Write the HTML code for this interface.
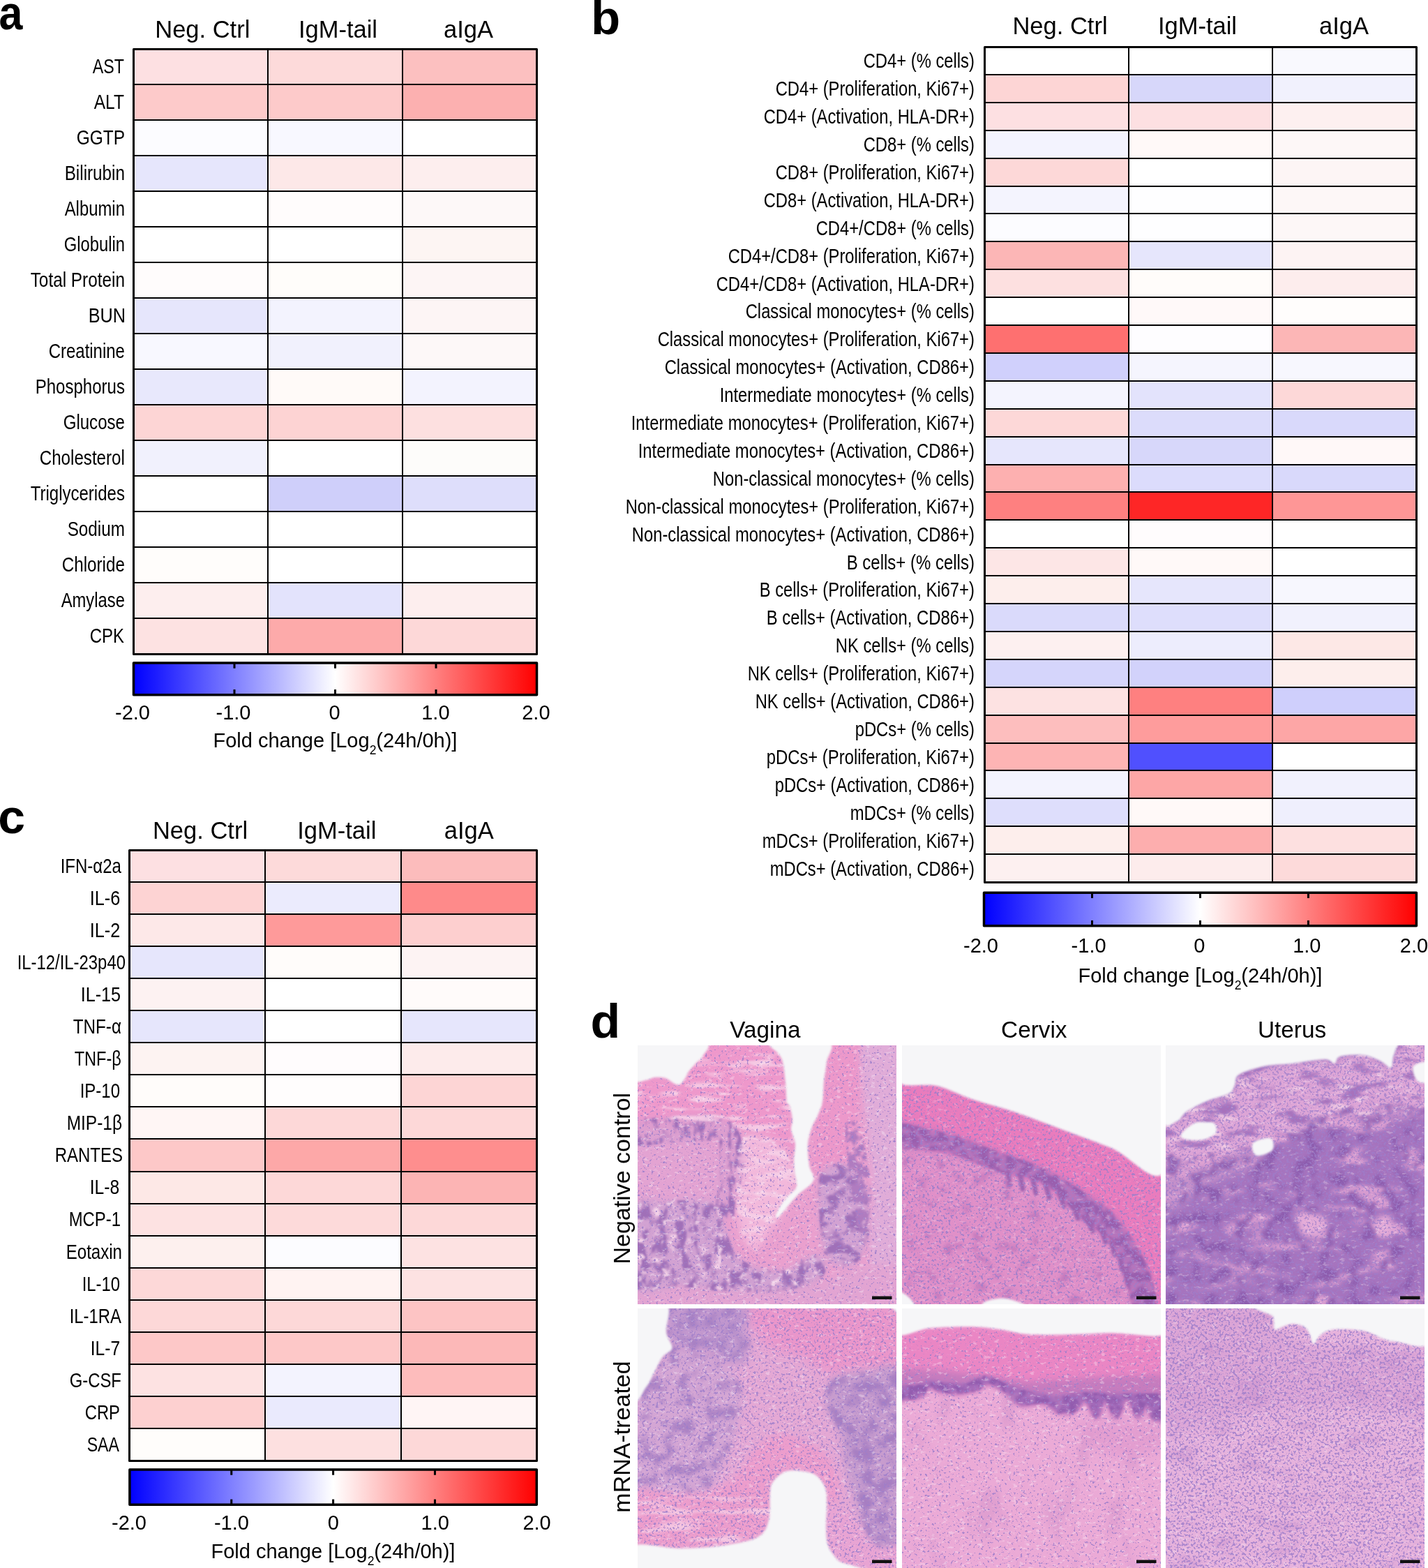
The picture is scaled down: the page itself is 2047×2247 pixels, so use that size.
<!DOCTYPE html>
<html><head><meta charset="utf-8"><title>Figure</title>
<style>html,body{margin:0;padding:0;background:#fff;} svg{display:block;}</style></head>
<body>
<svg width="2047" height="2247" viewBox="0 0 2047 2247" font-family='"Liberation Sans", Arial, sans-serif' fill="#000">
<defs><linearGradient id="cb" x1="0" x2="1" y1="0" y2="0"><stop offset="0" stop-color="#0000FF"/><stop offset="0.5" stop-color="#FFFFFF"/><stop offset="1" stop-color="#FF0000"/></linearGradient><filter id="bl0_6" x="-30%" y="-30%" width="160%" height="160%"><feGaussianBlur stdDeviation="0.6"/></filter><filter id="bl1" x="-30%" y="-30%" width="160%" height="160%"><feGaussianBlur stdDeviation="1"/></filter><filter id="bl1_2" x="-30%" y="-30%" width="160%" height="160%"><feGaussianBlur stdDeviation="1.2"/></filter><filter id="bl1_5" x="-30%" y="-30%" width="160%" height="160%"><feGaussianBlur stdDeviation="1.5"/></filter><filter id="bl2" x="-30%" y="-30%" width="160%" height="160%"><feGaussianBlur stdDeviation="2"/></filter><filter id="bl2_5" x="-30%" y="-30%" width="160%" height="160%"><feGaussianBlur stdDeviation="2.5"/></filter><filter id="bl3" x="-30%" y="-30%" width="160%" height="160%"><feGaussianBlur stdDeviation="3"/></filter><filter id="bl3_5" x="-30%" y="-30%" width="160%" height="160%"><feGaussianBlur stdDeviation="3.5"/></filter><filter id="bl4" x="-30%" y="-30%" width="160%" height="160%"><feGaussianBlur stdDeviation="4"/></filter><filter id="bl5" x="-30%" y="-30%" width="160%" height="160%"><feGaussianBlur stdDeviation="5"/></filter><filter id="bl6" x="-30%" y="-30%" width="160%" height="160%"><feGaussianBlur stdDeviation="6"/></filter><filter id="bl7" x="-30%" y="-30%" width="160%" height="160%"><feGaussianBlur stdDeviation="7"/></filter><filter id="bl8" x="-30%" y="-30%" width="160%" height="160%"><feGaussianBlur stdDeviation="8"/></filter><filter id="bl9" x="-30%" y="-30%" width="160%" height="160%"><feGaussianBlur stdDeviation="9"/></filter><filter id="bl10" x="-30%" y="-30%" width="160%" height="160%"><feGaussianBlur stdDeviation="10"/></filter><filter id="bl12" x="-30%" y="-30%" width="160%" height="160%"><feGaussianBlur stdDeviation="12"/></filter><filter id="tex_lo" x="0" y="0" width="100%" height="100%"><feTurbulence type="fractalNoise" baseFrequency="0.3" numOctaves="2" seed="7" result="n"/><feColorMatrix in="n" type="matrix" values="0 0 0 0 0.34  0 0 0 0 0.21  0 0 0 0 0.6  14 0 0 0 -9.4"/></filter><filter id="tex_md" x="0" y="0" width="100%" height="100%"><feTurbulence type="fractalNoise" baseFrequency="0.3" numOctaves="2" seed="7" result="n"/><feColorMatrix in="n" type="matrix" values="0 0 0 0 0.34  0 0 0 0 0.21  0 0 0 0 0.6  14 0 0 0 -8.9"/></filter><filter id="tex_hi" x="0" y="0" width="100%" height="100%"><feTurbulence type="fractalNoise" baseFrequency="0.3" numOctaves="2" seed="7" result="n"/><feColorMatrix in="n" type="matrix" values="0 0 0 0 0.34  0 0 0 0 0.21  0 0 0 0 0.6  14 0 0 0 -8.2"/></filter><filter id="tex_vh" x="0" y="0" width="100%" height="100%"><feTurbulence type="fractalNoise" baseFrequency="0.3" numOctaves="2" seed="7" result="n"/><feColorMatrix in="n" type="matrix" values="0 0 0 0 0.34  0 0 0 0 0.21  0 0 0 0 0.6  14 0 0 0 -7.6"/></filter><filter id="tex2" x="0" y="0" width="100%" height="100%"><feTurbulence type="fractalNoise" baseFrequency="0.12 0.22" numOctaves="3" seed="11" result="n"/><feColorMatrix in="n" type="matrix" values="0 0 0 0 1  0 0 0 0 0.96  0 0 0 0 1  0 9 0 0 -5.6"/></filter><clipPath id="clip00"><rect x="0" y="0" width="371" height="371"/></clipPath><filter id="blot0" x="-5%" y="-5%" width="110%" height="110%"><feTurbulence type="fractalNoise" baseFrequency="0.07 0.04" numOctaves="3" seed="5" result="n"/><feColorMatrix in="n" type="matrix" values="0 0 0 0 0  0 0 0 0 0  0 0 0 0 0  6 0 0 0 -2.8" result="m"/><feComposite in="SourceGraphic" in2="m" operator="in" result="c"/><feGaussianBlur in="c" stdDeviation="1.2"/></filter><filter id="blot1" x="-5%" y="-5%" width="110%" height="110%"><feTurbulence type="fractalNoise" baseFrequency="0.04 0.07" numOctaves="3" seed="9" result="n"/><feColorMatrix in="n" type="matrix" values="0 0 0 0 0  0 0 0 0 0  0 0 0 0 0  6 0 0 0 -2.9" result="m"/><feComposite in="SourceGraphic" in2="m" operator="in" result="c"/><feGaussianBlur in="c" stdDeviation="1.2"/></filter><filter id="blot2" x="-5%" y="-5%" width="110%" height="110%"><feTurbulence type="fractalNoise" baseFrequency="0.1 0.045" numOctaves="3" seed="13" result="n"/><feColorMatrix in="n" type="matrix" values="0 0 0 0 0  0 0 0 0 0  0 0 0 0 0  6 0 0 0 -3.0" result="m"/><feComposite in="SourceGraphic" in2="m" operator="in" result="c"/><feGaussianBlur in="c" stdDeviation="1.2"/></filter><filter id="blot3" x="-5%" y="-5%" width="110%" height="110%"><feTurbulence type="fractalNoise" baseFrequency="0.08" numOctaves="3" seed="19" result="n"/><feColorMatrix in="n" type="matrix" values="0 0 0 0 0  0 0 0 0 0  0 0 0 0 0  6 0 0 0 -2.2" result="m"/><feComposite in="SourceGraphic" in2="m" operator="in" result="c"/><feGaussianBlur in="c" stdDeviation="1.2"/></filter><filter id="blot4" x="-5%" y="-5%" width="110%" height="110%"><feTurbulence type="fractalNoise" baseFrequency="0.015 0.09" numOctaves="3" seed="23" result="n"/><feColorMatrix in="n" type="matrix" values="0 0 0 0 0  0 0 0 0 0  0 0 0 0 0  6 0 0 0 -3.2" result="m"/><feComposite in="SourceGraphic" in2="m" operator="in" result="c"/><feGaussianBlur in="c" stdDeviation="1.0"/></filter><filter id="blot5" x="-5%" y="-5%" width="110%" height="110%"><feTurbulence type="fractalNoise" baseFrequency="0.03 0.1" numOctaves="3" seed="29" result="n"/><feColorMatrix in="n" type="matrix" values="0 0 0 0 0  0 0 0 0 0  0 0 0 0 0  6 0 0 0 -3.0" result="m"/><feComposite in="SourceGraphic" in2="m" operator="in" result="c"/><feGaussianBlur in="c" stdDeviation="1.0"/></filter><filter id="blot6" x="-5%" y="-5%" width="110%" height="110%"><feTurbulence type="fractalNoise" baseFrequency="0.09" numOctaves="3" seed="61" result="n"/><feColorMatrix in="n" type="matrix" values="0 0 0 0 0  0 0 0 0 0  0 0 0 0 0  7 0 0 0 -4.2" result="m"/><feComposite in="SourceGraphic" in2="m" operator="in" result="c"/><feGaussianBlur in="c" stdDeviation="1.0"/></filter><clipPath id="clip01"><rect x="0" y="0" width="371" height="371"/></clipPath><filter id="blot7" x="-5%" y="-5%" width="110%" height="110%"><feTurbulence type="fractalNoise" baseFrequency="0.08" numOctaves="3" seed="31" result="n"/><feColorMatrix in="n" type="matrix" values="0 0 0 0 0  0 0 0 0 0  0 0 0 0 0  6 0 0 0 -2.4" result="m"/><feComposite in="SourceGraphic" in2="m" operator="in" result="c"/><feGaussianBlur in="c" stdDeviation="1.5"/></filter><filter id="blot8" x="-5%" y="-5%" width="110%" height="110%"><feTurbulence type="fractalNoise" baseFrequency="0.05" numOctaves="3" seed="37" result="n"/><feColorMatrix in="n" type="matrix" values="0 0 0 0 0  0 0 0 0 0  0 0 0 0 0  5 0 0 0 -2.9" result="m"/><feComposite in="SourceGraphic" in2="m" operator="in" result="c"/><feGaussianBlur in="c" stdDeviation="2"/></filter><clipPath id="clip02"><rect x="0" y="0" width="371" height="371"/></clipPath><filter id="blot9" x="-5%" y="-5%" width="110%" height="110%"><feTurbulence type="fractalNoise" baseFrequency="0.02 0.06" numOctaves="3" seed="41" result="n"/><feColorMatrix in="n" type="matrix" values="0 0 0 0 0  0 0 0 0 0  0 0 0 0 0  6 0 0 0 -3.2" result="m"/><feComposite in="SourceGraphic" in2="m" operator="in" result="c"/><feGaussianBlur in="c" stdDeviation="1.5"/></filter><filter id="blot10" x="-5%" y="-5%" width="110%" height="110%"><feTurbulence type="fractalNoise" baseFrequency="0.03 0.09" numOctaves="3" seed="43" result="n"/><feColorMatrix in="n" type="matrix" values="0 0 0 0 0  0 0 0 0 0  0 0 0 0 0  6 0 0 0 -3.6" result="m"/><feComposite in="SourceGraphic" in2="m" operator="in" result="c"/><feGaussianBlur in="c" stdDeviation="1"/></filter><filter id="blot11" x="-5%" y="-5%" width="110%" height="110%"><feTurbulence type="fractalNoise" baseFrequency="0.012 0.04" numOctaves="3" seed="47" result="n"/><feColorMatrix in="n" type="matrix" values="0 0 0 0 0  0 0 0 0 0  0 0 0 0 0  7 0 0 0 -3.9" result="m"/><feComposite in="SourceGraphic" in2="m" operator="in" result="c"/><feGaussianBlur in="c" stdDeviation="2"/></filter><filter id="blot12" x="-5%" y="-5%" width="110%" height="110%"><feTurbulence type="fractalNoise" baseFrequency="0.05" numOctaves="3" seed="53" result="n"/><feColorMatrix in="n" type="matrix" values="0 0 0 0 0  0 0 0 0 0  0 0 0 0 0  6 0 0 0 -3.1" result="m"/><feComposite in="SourceGraphic" in2="m" operator="in" result="c"/><feGaussianBlur in="c" stdDeviation="2"/></filter><clipPath id="clip10"><rect x="0" y="0" width="371" height="371"/></clipPath><filter id="blot13" x="-5%" y="-5%" width="110%" height="110%"><feTurbulence type="fractalNoise" baseFrequency="0.07" numOctaves="3" seed="71" result="n"/><feColorMatrix in="n" type="matrix" values="0 0 0 0 0  0 0 0 0 0  0 0 0 0 0  6 0 0 0 -2.9" result="m"/><feComposite in="SourceGraphic" in2="m" operator="in" result="c"/><feGaussianBlur in="c" stdDeviation="3.5"/></filter><filter id="blot14" x="-5%" y="-5%" width="110%" height="110%"><feTurbulence type="fractalNoise" baseFrequency="0.05" numOctaves="3" seed="73" result="n"/><feColorMatrix in="n" type="matrix" values="0 0 0 0 0  0 0 0 0 0  0 0 0 0 0  7 0 0 0 -3.6" result="m"/><feComposite in="SourceGraphic" in2="m" operator="in" result="c"/><feGaussianBlur in="c" stdDeviation="2.5"/></filter><filter id="blot15" x="-5%" y="-5%" width="110%" height="110%"><feTurbulence type="fractalNoise" baseFrequency="0.05" numOctaves="3" seed="79" result="n"/><feColorMatrix in="n" type="matrix" values="0 0 0 0 0  0 0 0 0 0  0 0 0 0 0  7 0 0 0 -3.4" result="m"/><feComposite in="SourceGraphic" in2="m" operator="in" result="c"/><feGaussianBlur in="c" stdDeviation="2.5"/></filter><filter id="blot16" x="-5%" y="-5%" width="110%" height="110%"><feTurbulence type="fractalNoise" baseFrequency="0.01 0.08" numOctaves="3" seed="83" result="n"/><feColorMatrix in="n" type="matrix" values="0 0 0 0 0  0 0 0 0 0  0 0 0 0 0  6 0 0 0 -3.2" result="m"/><feComposite in="SourceGraphic" in2="m" operator="in" result="c"/><feGaussianBlur in="c" stdDeviation="1"/></filter><clipPath id="clip11"><rect x="0" y="0" width="371" height="371"/></clipPath><filter id="blot17" x="-5%" y="-5%" width="110%" height="110%"><feTurbulence type="fractalNoise" baseFrequency="0.1" numOctaves="3" seed="91" result="n"/><feColorMatrix in="n" type="matrix" values="0 0 0 0 0  0 0 0 0 0  0 0 0 0 0  6 0 0 0 -2.6" result="m"/><feComposite in="SourceGraphic" in2="m" operator="in" result="c"/><feGaussianBlur in="c" stdDeviation="1.2"/></filter><filter id="blot18" x="-5%" y="-5%" width="110%" height="110%"><feTurbulence type="fractalNoise" baseFrequency="0.03 0.012" numOctaves="3" seed="97" result="n"/><feColorMatrix in="n" type="matrix" values="0 0 0 0 0  0 0 0 0 0  0 0 0 0 0  6 0 0 0 -3.5" result="m"/><feComposite in="SourceGraphic" in2="m" operator="in" result="c"/><feGaussianBlur in="c" stdDeviation="2"/></filter><clipPath id="clip12"><rect x="0" y="0" width="371" height="371"/></clipPath><filter id="blot19" x="-5%" y="-5%" width="110%" height="110%"><feTurbulence type="fractalNoise" baseFrequency="0.02 0.05" numOctaves="3" seed="101" result="n"/><feColorMatrix in="n" type="matrix" values="0 0 0 0 0  0 0 0 0 0  0 0 0 0 0  5 0 0 0 -2.8" result="m"/><feComposite in="SourceGraphic" in2="m" operator="in" result="c"/><feGaussianBlur in="c" stdDeviation="3"/></filter></defs>
<rect width="2047" height="2247" fill="#fff"/>
<rect x="191.5" y="70.5" width="192.5" height="50.5" fill="#FDE0E2"/>
<rect x="384" y="70.5" width="193" height="50.5" fill="#FDDADA"/>
<rect x="577" y="70.5" width="192.5" height="50.5" fill="#FCC0C0"/>
<rect x="191.5" y="121" width="192.5" height="51" fill="#FDCACA"/>
<rect x="384" y="121" width="193" height="51" fill="#FDCACA"/>
<rect x="577" y="121" width="192.5" height="51" fill="#FCB0B0"/>
<rect x="191.5" y="172" width="192.5" height="51" fill="#FCFCFF"/>
<rect x="384" y="172" width="193" height="51" fill="#F8F8FF"/>
<rect x="577" y="172" width="192.5" height="51" fill="#FFFFFF"/>
<rect x="191.5" y="223" width="192.5" height="51" fill="#E6E6FC"/>
<rect x="384" y="223" width="193" height="51" fill="#FDE8E8"/>
<rect x="577" y="223" width="192.5" height="51" fill="#FDEEEE"/>
<rect x="191.5" y="274" width="192.5" height="51" fill="#FFFFFF"/>
<rect x="384" y="274" width="193" height="51" fill="#FFFCFC"/>
<rect x="577" y="274" width="192.5" height="51" fill="#FDF8F8"/>
<rect x="191.5" y="325" width="192.5" height="51" fill="#FFFFFF"/>
<rect x="384" y="325" width="193" height="51" fill="#FFFFFF"/>
<rect x="577" y="325" width="192.5" height="51" fill="#FDF5F3"/>
<rect x="191.5" y="376" width="192.5" height="51" fill="#FFFCFC"/>
<rect x="384" y="376" width="193" height="51" fill="#FFFDFA"/>
<rect x="577" y="376" width="192.5" height="51" fill="#FDF5F5"/>
<rect x="191.5" y="427" width="192.5" height="51" fill="#E6E6FC"/>
<rect x="384" y="427" width="193" height="51" fill="#F3F3FE"/>
<rect x="577" y="427" width="192.5" height="51" fill="#FDF5F5"/>
<rect x="191.5" y="478" width="192.5" height="51" fill="#F8F8FF"/>
<rect x="384" y="478" width="193" height="51" fill="#F1F1FD"/>
<rect x="577" y="478" width="192.5" height="51" fill="#FDF8F8"/>
<rect x="191.5" y="529" width="192.5" height="51" fill="#E8E8FC"/>
<rect x="384" y="529" width="193" height="51" fill="#FFFAF8"/>
<rect x="577" y="529" width="192.5" height="51" fill="#F3F3FE"/>
<rect x="191.5" y="580" width="192.5" height="51" fill="#FDD5D5"/>
<rect x="384" y="580" width="193" height="51" fill="#FDD3D3"/>
<rect x="577" y="580" width="192.5" height="51" fill="#FDE0E0"/>
<rect x="191.5" y="631" width="192.5" height="51" fill="#F1F1FD"/>
<rect x="384" y="631" width="193" height="51" fill="#FFFFFF"/>
<rect x="577" y="631" width="192.5" height="51" fill="#FDFCFA"/>
<rect x="191.5" y="682" width="192.5" height="51" fill="#FFFFFF"/>
<rect x="384" y="682" width="193" height="51" fill="#CFCFFA"/>
<rect x="577" y="682" width="192.5" height="51" fill="#DEDEFB"/>
<rect x="191.5" y="733" width="192.5" height="51" fill="#FFFFFF"/>
<rect x="384" y="733" width="193" height="51" fill="#FFFFFF"/>
<rect x="577" y="733" width="192.5" height="51" fill="#FFFFFF"/>
<rect x="191.5" y="784" width="192.5" height="51" fill="#FFFDFB"/>
<rect x="384" y="784" width="193" height="51" fill="#FFFFFF"/>
<rect x="577" y="784" width="192.5" height="51" fill="#FFFFFF"/>
<rect x="191.5" y="835" width="192.5" height="51" fill="#FDEEEE"/>
<rect x="384" y="835" width="193" height="51" fill="#E3E3FC"/>
<rect x="577" y="835" width="192.5" height="51" fill="#FDEEEE"/>
<rect x="191.5" y="886" width="192.5" height="51.5" fill="#FDE2E2"/>
<rect x="384" y="886" width="193" height="51.5" fill="#FDAAAA"/>
<rect x="577" y="886" width="192.5" height="51.5" fill="#FDD8D8"/>
<line x1="191.5" y1="121" x2="769.5" y2="121" stroke="#000" stroke-width="2.0"/>
<line x1="191.5" y1="172" x2="769.5" y2="172" stroke="#000" stroke-width="2.0"/>
<line x1="191.5" y1="223" x2="769.5" y2="223" stroke="#000" stroke-width="2.0"/>
<line x1="191.5" y1="274" x2="769.5" y2="274" stroke="#000" stroke-width="2.0"/>
<line x1="191.5" y1="325" x2="769.5" y2="325" stroke="#000" stroke-width="2.0"/>
<line x1="191.5" y1="376" x2="769.5" y2="376" stroke="#000" stroke-width="2.0"/>
<line x1="191.5" y1="427" x2="769.5" y2="427" stroke="#000" stroke-width="2.0"/>
<line x1="191.5" y1="478" x2="769.5" y2="478" stroke="#000" stroke-width="2.0"/>
<line x1="191.5" y1="529" x2="769.5" y2="529" stroke="#000" stroke-width="2.0"/>
<line x1="191.5" y1="580" x2="769.5" y2="580" stroke="#000" stroke-width="2.0"/>
<line x1="191.5" y1="631" x2="769.5" y2="631" stroke="#000" stroke-width="2.0"/>
<line x1="191.5" y1="682" x2="769.5" y2="682" stroke="#000" stroke-width="2.0"/>
<line x1="191.5" y1="733" x2="769.5" y2="733" stroke="#000" stroke-width="2.0"/>
<line x1="191.5" y1="784" x2="769.5" y2="784" stroke="#000" stroke-width="2.0"/>
<line x1="191.5" y1="835" x2="769.5" y2="835" stroke="#000" stroke-width="2.0"/>
<line x1="191.5" y1="886" x2="769.5" y2="886" stroke="#000" stroke-width="2.0"/>
<line x1="384" y1="70.5" x2="384" y2="937.5" stroke="#000" stroke-width="2.0"/>
<line x1="577" y1="70.5" x2="577" y2="937.5" stroke="#000" stroke-width="2.0"/>
<rect x="191.5" y="70.5" width="578.0" height="867.0" fill="none" stroke="#000" stroke-width="3.0" stroke-linejoin="round"/>
<text x="132.70" y="105.0" font-size="29.6" textLength="45.22" lengthAdjust="spacingAndGlyphs">AST</text>
<text x="134.70" y="156.0" font-size="29.6" textLength="43.20" lengthAdjust="spacingAndGlyphs">ALT</text>
<text x="109.70" y="207.0" font-size="29.6" textLength="69.27" lengthAdjust="spacingAndGlyphs">GGTP</text>
<text x="92.70" y="258.0" font-size="29.6" textLength="86.30" lengthAdjust="spacingAndGlyphs">Bilirubin</text>
<text x="92.70" y="309.0" font-size="29.6" textLength="86.22" lengthAdjust="spacingAndGlyphs">Albumin</text>
<text x="91.70" y="360.0" font-size="29.6" textLength="87.26" lengthAdjust="spacingAndGlyphs">Globulin</text>
<text x="43.70" y="411.0" font-size="29.6" textLength="135.23" lengthAdjust="spacingAndGlyphs">Total Protein</text>
<text x="126.70" y="462.0" font-size="29.6" textLength="53.42" lengthAdjust="spacingAndGlyphs">BUN</text>
<text x="69.70" y="513.0" font-size="29.6" textLength="109.24" lengthAdjust="spacingAndGlyphs">Creatinine</text>
<text x="50.70" y="564.0" font-size="29.6" textLength="128.24" lengthAdjust="spacingAndGlyphs">Phosphorus</text>
<text x="90.70" y="615.0" font-size="29.6" textLength="88.25" lengthAdjust="spacingAndGlyphs">Glucose</text>
<text x="56.70" y="666.0" font-size="29.6" textLength="122.24" lengthAdjust="spacingAndGlyphs">Cholesterol</text>
<text x="43.70" y="717.0" font-size="29.6" textLength="135.21" lengthAdjust="spacingAndGlyphs">Triglycerides</text>
<text x="96.70" y="768.0" font-size="29.6" textLength="82.25" lengthAdjust="spacingAndGlyphs">Sodium</text>
<text x="88.70" y="819.0" font-size="29.6" textLength="90.24" lengthAdjust="spacingAndGlyphs">Chloride</text>
<text x="87.70" y="870.0" font-size="29.6" textLength="91.21" lengthAdjust="spacingAndGlyphs">Amylase</text>
<text x="128.70" y="921.0" font-size="29.6" textLength="49.24" lengthAdjust="spacingAndGlyphs">CPK</text>
<text x="290.3" y="54.4" font-size="34.5" text-anchor="middle" >Neg. Ctrl</text>
<text x="484.5" y="54.4" font-size="34.5" text-anchor="middle" >IgM-tail</text>
<text x="671.5" y="54.4" font-size="34.5" text-anchor="middle" >aIgA</text>
<rect x="191.5" y="950.0" width="578.0" height="45.799999999999955" fill="url(#cb)"/>
<line x1="336.00" y1="950.0" x2="336.00" y2="957.75" stroke="#000" stroke-width="3"/>
<line x1="336.00" y1="995.8" x2="336.00" y2="988.05" stroke="#000" stroke-width="3"/>
<line x1="480.50" y1="950.0" x2="480.50" y2="957.75" stroke="#000" stroke-width="3"/>
<line x1="480.50" y1="995.8" x2="480.50" y2="988.05" stroke="#000" stroke-width="3"/>
<line x1="625.00" y1="950.0" x2="625.00" y2="957.75" stroke="#000" stroke-width="3"/>
<line x1="625.00" y1="995.8" x2="625.00" y2="988.05" stroke="#000" stroke-width="3"/>
<rect x="191.5" y="950.0" width="578.0" height="45.799999999999955" fill="none" stroke="#000" stroke-width="3.5" stroke-linejoin="round"/>
<text x="190.0" y="1031" font-size="29" text-anchor="middle" >-2.0</text>
<text x="334.5" y="1031" font-size="29" text-anchor="middle" >-1.0</text>
<text x="479.6" y="1031" font-size="29" text-anchor="middle" >0</text>
<text x="624.4" y="1031" font-size="29" text-anchor="middle" >1.0</text>
<text x="768.4" y="1031" font-size="29" text-anchor="middle" >2.0</text>
<text x="305.5" y="1071.4" font-size="29.0">Fold change [Log<tspan font-size="17.5" dy="10">2</tspan><tspan dy="-10">(24h/0h)]</tspan></text>
<text transform="translate(-1.6,42) scale(0.89,1)" font-size="68.5" font-weight="bold">a</text>
<rect x="1411.5" y="67.5" width="206.5" height="39.5" fill="#FFFFFF"/>
<rect x="1618" y="67.5" width="206" height="39.5" fill="#FFFFFF"/>
<rect x="1824" y="67.5" width="206.5" height="39.5" fill="#F9F9FE"/>
<rect x="1411.5" y="107" width="206.5" height="40" fill="#FDD5D5"/>
<rect x="1618" y="107" width="206" height="40" fill="#D7D7FA"/>
<rect x="1824" y="107" width="206.5" height="40" fill="#F1F1FD"/>
<rect x="1411.5" y="147" width="206.5" height="40" fill="#FDE0E2"/>
<rect x="1618" y="147" width="206" height="40" fill="#FDE0E2"/>
<rect x="1824" y="147" width="206.5" height="40" fill="#FDF0F0"/>
<rect x="1411.5" y="187" width="206.5" height="40" fill="#F3F3FE"/>
<rect x="1618" y="187" width="206" height="40" fill="#FFF9F8"/>
<rect x="1824" y="187" width="206.5" height="40" fill="#FDF7F7"/>
<rect x="1411.5" y="227" width="206.5" height="40" fill="#FDD8D8"/>
<rect x="1618" y="227" width="206" height="40" fill="#FFFFFF"/>
<rect x="1824" y="227" width="206.5" height="40" fill="#FDF5F5"/>
<rect x="1411.5" y="267" width="206.5" height="39" fill="#F4F4FE"/>
<rect x="1618" y="267" width="206" height="39" fill="#FEFEFF"/>
<rect x="1824" y="267" width="206.5" height="39" fill="#FDF7F7"/>
<rect x="1411.5" y="306" width="206.5" height="40" fill="#FCFCFF"/>
<rect x="1618" y="306" width="206" height="40" fill="#FEFEFF"/>
<rect x="1824" y="306" width="206.5" height="40" fill="#FDF7F7"/>
<rect x="1411.5" y="346" width="206.5" height="40" fill="#FCB6B6"/>
<rect x="1618" y="346" width="206" height="40" fill="#E6E6FC"/>
<rect x="1824" y="346" width="206.5" height="40" fill="#FDF3F3"/>
<rect x="1411.5" y="386" width="206.5" height="40" fill="#FDE0E0"/>
<rect x="1618" y="386" width="206" height="40" fill="#FFFCFA"/>
<rect x="1824" y="386" width="206.5" height="40" fill="#FDEDED"/>
<rect x="1411.5" y="426" width="206.5" height="40" fill="#FFFFFF"/>
<rect x="1618" y="426" width="206" height="40" fill="#FFF9F9"/>
<rect x="1824" y="426" width="206.5" height="40" fill="#FFFDFC"/>
<rect x="1411.5" y="466" width="206.5" height="40" fill="#FE7070"/>
<rect x="1618" y="466" width="206" height="40" fill="#FEFDFF"/>
<rect x="1824" y="466" width="206.5" height="40" fill="#FCB6B6"/>
<rect x="1411.5" y="506" width="206.5" height="40" fill="#D0D0FC"/>
<rect x="1618" y="506" width="206" height="40" fill="#F5F5FE"/>
<rect x="1824" y="506" width="206.5" height="40" fill="#F7F7FE"/>
<rect x="1411.5" y="546" width="206.5" height="40" fill="#F4F4FE"/>
<rect x="1618" y="546" width="206" height="40" fill="#E3E3FC"/>
<rect x="1824" y="546" width="206.5" height="40" fill="#FDD8D8"/>
<rect x="1411.5" y="586" width="206.5" height="40" fill="#FDD8D8"/>
<rect x="1618" y="586" width="206" height="40" fill="#DCDCFB"/>
<rect x="1824" y="586" width="206.5" height="40" fill="#D9D9FB"/>
<rect x="1411.5" y="626" width="206.5" height="40" fill="#E6E6FC"/>
<rect x="1618" y="626" width="206" height="40" fill="#D7D7FA"/>
<rect x="1824" y="626" width="206.5" height="40" fill="#FFF8F8"/>
<rect x="1411.5" y="666" width="206.5" height="39" fill="#FDB0B0"/>
<rect x="1618" y="666" width="206" height="39" fill="#DCDCFC"/>
<rect x="1824" y="666" width="206.5" height="39" fill="#D9D9FB"/>
<rect x="1411.5" y="705" width="206.5" height="40" fill="#FE8080"/>
<rect x="1618" y="705" width="206" height="40" fill="#FE2626"/>
<rect x="1824" y="705" width="206.5" height="40" fill="#FE9696"/>
<rect x="1411.5" y="745" width="206.5" height="40" fill="#FFFFFF"/>
<rect x="1618" y="745" width="206" height="40" fill="#FFFCFD"/>
<rect x="1824" y="745" width="206.5" height="40" fill="#FFFFFF"/>
<rect x="1411.5" y="785" width="206.5" height="40" fill="#FDE6E6"/>
<rect x="1618" y="785" width="206" height="40" fill="#FFF9F8"/>
<rect x="1824" y="785" width="206.5" height="40" fill="#FFFFFF"/>
<rect x="1411.5" y="825" width="206.5" height="40" fill="#FDEEEC"/>
<rect x="1618" y="825" width="206" height="40" fill="#E6E6FC"/>
<rect x="1824" y="825" width="206.5" height="40" fill="#F7F7FE"/>
<rect x="1411.5" y="865" width="206.5" height="40" fill="#DADAFB"/>
<rect x="1618" y="865" width="206" height="40" fill="#DEDEFC"/>
<rect x="1824" y="865" width="206.5" height="40" fill="#F1F1FD"/>
<rect x="1411.5" y="905" width="206.5" height="40" fill="#FDF0F0"/>
<rect x="1618" y="905" width="206" height="40" fill="#EDEDFD"/>
<rect x="1824" y="905" width="206.5" height="40" fill="#FDE8E6"/>
<rect x="1411.5" y="945" width="206.5" height="40" fill="#D5D5FB"/>
<rect x="1618" y="945" width="206" height="40" fill="#D2D2FB"/>
<rect x="1824" y="945" width="206.5" height="40" fill="#FDEEEC"/>
<rect x="1411.5" y="985" width="206.5" height="40" fill="#FDE2E2"/>
<rect x="1618" y="985" width="206" height="40" fill="#FE8080"/>
<rect x="1824" y="985" width="206.5" height="40" fill="#CFCFFC"/>
<rect x="1411.5" y="1025" width="206.5" height="40" fill="#FDBEBE"/>
<rect x="1618" y="1025" width="206" height="40" fill="#FE9C9C"/>
<rect x="1824" y="1025" width="206.5" height="40" fill="#FDA6A6"/>
<rect x="1411.5" y="1065" width="206.5" height="39" fill="#FDB4B4"/>
<rect x="1618" y="1065" width="206" height="39" fill="#5050FE"/>
<rect x="1824" y="1065" width="206.5" height="39" fill="#FFFFFF"/>
<rect x="1411.5" y="1104" width="206.5" height="40" fill="#F3F3FE"/>
<rect x="1618" y="1104" width="206" height="40" fill="#FDA6A6"/>
<rect x="1824" y="1104" width="206.5" height="40" fill="#F1F1FD"/>
<rect x="1411.5" y="1144" width="206.5" height="40" fill="#DEDEFC"/>
<rect x="1618" y="1144" width="206" height="40" fill="#FFF9F8"/>
<rect x="1824" y="1144" width="206.5" height="40" fill="#EFEFFD"/>
<rect x="1411.5" y="1184" width="206.5" height="40" fill="#FDEEEC"/>
<rect x="1618" y="1184" width="206" height="40" fill="#FDAEAE"/>
<rect x="1824" y="1184" width="206.5" height="40" fill="#FDE0E0"/>
<rect x="1411.5" y="1224" width="206.5" height="40.5" fill="#FDF0F0"/>
<rect x="1618" y="1224" width="206" height="40.5" fill="#FDECEC"/>
<rect x="1824" y="1224" width="206.5" height="40.5" fill="#FDDADA"/>
<line x1="1411.5" y1="107" x2="2030.5" y2="107" stroke="#000" stroke-width="2.0"/>
<line x1="1411.5" y1="147" x2="2030.5" y2="147" stroke="#000" stroke-width="2.0"/>
<line x1="1411.5" y1="187" x2="2030.5" y2="187" stroke="#000" stroke-width="2.0"/>
<line x1="1411.5" y1="227" x2="2030.5" y2="227" stroke="#000" stroke-width="2.0"/>
<line x1="1411.5" y1="267" x2="2030.5" y2="267" stroke="#000" stroke-width="2.0"/>
<line x1="1411.5" y1="306" x2="2030.5" y2="306" stroke="#000" stroke-width="2.0"/>
<line x1="1411.5" y1="346" x2="2030.5" y2="346" stroke="#000" stroke-width="2.0"/>
<line x1="1411.5" y1="386" x2="2030.5" y2="386" stroke="#000" stroke-width="2.0"/>
<line x1="1411.5" y1="426" x2="2030.5" y2="426" stroke="#000" stroke-width="2.0"/>
<line x1="1411.5" y1="466" x2="2030.5" y2="466" stroke="#000" stroke-width="2.0"/>
<line x1="1411.5" y1="506" x2="2030.5" y2="506" stroke="#000" stroke-width="2.0"/>
<line x1="1411.5" y1="546" x2="2030.5" y2="546" stroke="#000" stroke-width="2.0"/>
<line x1="1411.5" y1="586" x2="2030.5" y2="586" stroke="#000" stroke-width="2.0"/>
<line x1="1411.5" y1="626" x2="2030.5" y2="626" stroke="#000" stroke-width="2.0"/>
<line x1="1411.5" y1="666" x2="2030.5" y2="666" stroke="#000" stroke-width="2.0"/>
<line x1="1411.5" y1="705" x2="2030.5" y2="705" stroke="#000" stroke-width="2.0"/>
<line x1="1411.5" y1="745" x2="2030.5" y2="745" stroke="#000" stroke-width="2.0"/>
<line x1="1411.5" y1="785" x2="2030.5" y2="785" stroke="#000" stroke-width="2.0"/>
<line x1="1411.5" y1="825" x2="2030.5" y2="825" stroke="#000" stroke-width="2.0"/>
<line x1="1411.5" y1="865" x2="2030.5" y2="865" stroke="#000" stroke-width="2.0"/>
<line x1="1411.5" y1="905" x2="2030.5" y2="905" stroke="#000" stroke-width="2.0"/>
<line x1="1411.5" y1="945" x2="2030.5" y2="945" stroke="#000" stroke-width="2.0"/>
<line x1="1411.5" y1="985" x2="2030.5" y2="985" stroke="#000" stroke-width="2.0"/>
<line x1="1411.5" y1="1025" x2="2030.5" y2="1025" stroke="#000" stroke-width="2.0"/>
<line x1="1411.5" y1="1065" x2="2030.5" y2="1065" stroke="#000" stroke-width="2.0"/>
<line x1="1411.5" y1="1104" x2="2030.5" y2="1104" stroke="#000" stroke-width="2.0"/>
<line x1="1411.5" y1="1144" x2="2030.5" y2="1144" stroke="#000" stroke-width="2.0"/>
<line x1="1411.5" y1="1184" x2="2030.5" y2="1184" stroke="#000" stroke-width="2.0"/>
<line x1="1411.5" y1="1224" x2="2030.5" y2="1224" stroke="#000" stroke-width="2.0"/>
<line x1="1618" y1="67.5" x2="1618" y2="1264.5" stroke="#000" stroke-width="2.0"/>
<line x1="1824" y1="67.5" x2="1824" y2="1264.5" stroke="#000" stroke-width="2.0"/>
<rect x="1411.5" y="67.5" width="619.0" height="1197.0" fill="none" stroke="#000" stroke-width="3.0" stroke-linejoin="round"/>
<text x="1237.70" y="97.4" font-size="28.8" textLength="159.23" lengthAdjust="spacingAndGlyphs">CD4+ (% cells)</text>
<text x="1111.70" y="137.2" font-size="28.8" textLength="285.22" lengthAdjust="spacingAndGlyphs">CD4+ (Proliferation, Ki67+)</text>
<text x="1094.70" y="177.2" font-size="28.8" textLength="302.22" lengthAdjust="spacingAndGlyphs">CD4+ (Activation, HLA-DR+)</text>
<text x="1237.70" y="217.1" font-size="28.8" textLength="159.23" lengthAdjust="spacingAndGlyphs">CD8+ (% cells)</text>
<text x="1111.70" y="256.9" font-size="28.8" textLength="285.22" lengthAdjust="spacingAndGlyphs">CD8+ (Proliferation, Ki67+)</text>
<text x="1094.70" y="296.8" font-size="28.8" textLength="302.22" lengthAdjust="spacingAndGlyphs">CD8+ (Activation, HLA-DR+)</text>
<text x="1169.70" y="336.7" font-size="28.8" textLength="227.21" lengthAdjust="spacingAndGlyphs">CD4+/CD8+ (% cells)</text>
<text x="1043.70" y="376.6" font-size="28.8" textLength="353.21" lengthAdjust="spacingAndGlyphs">CD4+/CD8+ (Proliferation, Ki67+)</text>
<text x="1026.70" y="416.5" font-size="28.8" textLength="370.21" lengthAdjust="spacingAndGlyphs">CD4+/CD8+ (Activation, HLA-DR+)</text>
<text x="1068.70" y="456.4" font-size="28.8" textLength="328.21" lengthAdjust="spacingAndGlyphs">Classical monocytes+ (% cells)</text>
<text x="942.70" y="496.3" font-size="28.8" textLength="454.21" lengthAdjust="spacingAndGlyphs">Classical monocytes+ (Proliferation, Ki67+)</text>
<text x="952.70" y="536.2" font-size="28.8" textLength="444.21" lengthAdjust="spacingAndGlyphs">Classical monocytes+ (Activation, CD86+)</text>
<text x="1031.70" y="576.1" font-size="28.8" textLength="365.22" lengthAdjust="spacingAndGlyphs">Intermediate monocytes+ (% cells)</text>
<text x="904.70" y="616.0" font-size="28.8" textLength="492.22" lengthAdjust="spacingAndGlyphs">Intermediate monocytes+ (Proliferation, Ki67+)</text>
<text x="914.70" y="655.9" font-size="28.8" textLength="482.22" lengthAdjust="spacingAndGlyphs">Intermediate monocytes+ (Activation, CD86+)</text>
<text x="1021.70" y="695.8" font-size="28.8" textLength="375.23" lengthAdjust="spacingAndGlyphs">Non-classical monocytes+ (% cells)</text>
<text x="896.70" y="735.8" font-size="28.8" textLength="500.22" lengthAdjust="spacingAndGlyphs">Non-classical monocytes+ (Proliferation, Ki67+)</text>
<text x="905.70" y="775.6" font-size="28.8" textLength="491.21" lengthAdjust="spacingAndGlyphs">Non-classical monocytes+ (Activation, CD86+)</text>
<text x="1213.70" y="815.5" font-size="28.8" textLength="183.24" lengthAdjust="spacingAndGlyphs">B cells+ (% cells)</text>
<text x="1088.70" y="855.4" font-size="28.8" textLength="308.22" lengthAdjust="spacingAndGlyphs">B cells+ (Proliferation, Ki67+)</text>
<text x="1098.70" y="895.3" font-size="28.8" textLength="298.23" lengthAdjust="spacingAndGlyphs">B cells+ (Activation, CD86+)</text>
<text x="1197.70" y="935.2" font-size="28.8" textLength="199.24" lengthAdjust="spacingAndGlyphs">NK cells+ (% cells)</text>
<text x="1071.70" y="975.1" font-size="28.8" textLength="325.22" lengthAdjust="spacingAndGlyphs">NK cells+ (Proliferation, Ki67+)</text>
<text x="1082.70" y="1015.0" font-size="28.8" textLength="314.22" lengthAdjust="spacingAndGlyphs">NK cells+ (Activation, CD86+)</text>
<text x="1225.70" y="1055.0" font-size="28.8" textLength="171.24" lengthAdjust="spacingAndGlyphs">pDCs+ (% cells)</text>
<text x="1098.70" y="1094.8" font-size="28.8" textLength="298.22" lengthAdjust="spacingAndGlyphs">pDCs+ (Proliferation, Ki67+)</text>
<text x="1110.70" y="1134.8" font-size="28.8" textLength="286.22" lengthAdjust="spacingAndGlyphs">pDCs+ (Activation, CD86+)</text>
<text x="1218.70" y="1174.7" font-size="28.8" textLength="178.22" lengthAdjust="spacingAndGlyphs">mDCs+ (% cells)</text>
<text x="1092.70" y="1214.5" font-size="28.8" textLength="304.22" lengthAdjust="spacingAndGlyphs">mDCs+ (Proliferation, Ki67+)</text>
<text x="1103.70" y="1254.5" font-size="28.8" textLength="293.22" lengthAdjust="spacingAndGlyphs">mDCs+ (Activation, CD86+)</text>
<text x="1519.5" y="49.3" font-size="34.5" text-anchor="middle" >Neg. Ctrl</text>
<text x="1716.5" y="49.3" font-size="34.5" text-anchor="middle" >IgM-tail</text>
<text x="1926.6" y="49.3" font-size="34.5" text-anchor="middle" >aIgA</text>
<rect x="1410.5" y="1279.3" width="619.9000000000001" height="47.40000000000009" fill="url(#cb)"/>
<line x1="1565.47" y1="1279.3" x2="1565.47" y2="1287.05" stroke="#000" stroke-width="3"/>
<line x1="1565.47" y1="1326.7" x2="1565.47" y2="1318.95" stroke="#000" stroke-width="3"/>
<line x1="1720.45" y1="1279.3" x2="1720.45" y2="1287.05" stroke="#000" stroke-width="3"/>
<line x1="1720.45" y1="1326.7" x2="1720.45" y2="1318.95" stroke="#000" stroke-width="3"/>
<line x1="1875.43" y1="1279.3" x2="1875.43" y2="1287.05" stroke="#000" stroke-width="3"/>
<line x1="1875.43" y1="1326.7" x2="1875.43" y2="1318.95" stroke="#000" stroke-width="3"/>
<rect x="1410.5" y="1279.3" width="619.9000000000001" height="47.40000000000009" fill="none" stroke="#000" stroke-width="3.5" stroke-linejoin="round"/>
<text x="1406.0" y="1365.2" font-size="29" text-anchor="middle" >-2.0</text>
<text x="1560.6" y="1365.2" font-size="29" text-anchor="middle" >-1.0</text>
<text x="1719.4" y="1365.2" font-size="29" text-anchor="middle" >0</text>
<text x="1873.3" y="1365.2" font-size="29" text-anchor="middle" >1.0</text>
<text x="2027.0" y="1365.2" font-size="29" text-anchor="middle" >2.0</text>
<text x="1545.5" y="1407.6" font-size="29.0">Fold change [Log<tspan font-size="17.5" dy="10">2</tspan><tspan dy="-10">(24h/0h)]</tspan></text>
<text transform="translate(847.2,48.9) scale(1.0,1)" font-size="68.5" font-weight="bold">b</text>
<rect x="185.5" y="1218.5" width="194.5" height="45.5" fill="#FDE0E2"/>
<rect x="380" y="1218.5" width="195" height="45.5" fill="#FDDADA"/>
<rect x="575" y="1218.5" width="194.5" height="45.5" fill="#FCBCBC"/>
<rect x="185.5" y="1264" width="194.5" height="46" fill="#FDD3D3"/>
<rect x="380" y="1264" width="195" height="46" fill="#EBEBFD"/>
<rect x="575" y="1264" width="194.5" height="46" fill="#FE8A8A"/>
<rect x="185.5" y="1310" width="194.5" height="46" fill="#FDE8E8"/>
<rect x="380" y="1310" width="195" height="46" fill="#FE9A9A"/>
<rect x="575" y="1310" width="194.5" height="46" fill="#FDCFCF"/>
<rect x="185.5" y="1356" width="194.5" height="46" fill="#E6E6FC"/>
<rect x="380" y="1356" width="195" height="46" fill="#FFFCFA"/>
<rect x="575" y="1356" width="194.5" height="46" fill="#FDF3F3"/>
<rect x="185.5" y="1402" width="194.5" height="46" fill="#FDF2F2"/>
<rect x="380" y="1402" width="195" height="46" fill="#FFFFFF"/>
<rect x="575" y="1402" width="194.5" height="46" fill="#FFFBFA"/>
<rect x="185.5" y="1448" width="194.5" height="46" fill="#E6E6FC"/>
<rect x="380" y="1448" width="195" height="46" fill="#FFFFFF"/>
<rect x="575" y="1448" width="194.5" height="46" fill="#E6E6FC"/>
<rect x="185.5" y="1494" width="194.5" height="46" fill="#FDF3F2"/>
<rect x="380" y="1494" width="195" height="46" fill="#FFFCFD"/>
<rect x="575" y="1494" width="194.5" height="46" fill="#FDEBEB"/>
<rect x="185.5" y="1540" width="194.5" height="46" fill="#FFFCFA"/>
<rect x="380" y="1540" width="195" height="46" fill="#FFFDFD"/>
<rect x="575" y="1540" width="194.5" height="46" fill="#FDD5D5"/>
<rect x="185.5" y="1586" width="194.5" height="46" fill="#FFF6F5"/>
<rect x="380" y="1586" width="195" height="46" fill="#FDD8D8"/>
<rect x="575" y="1586" width="194.5" height="46" fill="#FDD8D8"/>
<rect x="185.5" y="1632" width="194.5" height="47" fill="#FDC8C8"/>
<rect x="380" y="1632" width="195" height="47" fill="#FDA8A8"/>
<rect x="575" y="1632" width="194.5" height="47" fill="#FE8E8E"/>
<rect x="185.5" y="1679" width="194.5" height="46" fill="#FDE8E6"/>
<rect x="380" y="1679" width="195" height="46" fill="#FDD8D8"/>
<rect x="575" y="1679" width="194.5" height="46" fill="#FCB4B4"/>
<rect x="185.5" y="1725" width="194.5" height="46" fill="#FDE2E2"/>
<rect x="380" y="1725" width="195" height="46" fill="#FDDADA"/>
<rect x="575" y="1725" width="194.5" height="46" fill="#FDD8D8"/>
<rect x="185.5" y="1771" width="194.5" height="46" fill="#FDF0EE"/>
<rect x="380" y="1771" width="195" height="46" fill="#FCFCFF"/>
<rect x="575" y="1771" width="194.5" height="46" fill="#FDE2E2"/>
<rect x="185.5" y="1817" width="194.5" height="46" fill="#FDD8D8"/>
<rect x="380" y="1817" width="195" height="46" fill="#FFF3F2"/>
<rect x="575" y="1817" width="194.5" height="46" fill="#FDE2E2"/>
<rect x="185.5" y="1863" width="194.5" height="46" fill="#FDD8D8"/>
<rect x="380" y="1863" width="195" height="46" fill="#FDD8D8"/>
<rect x="575" y="1863" width="194.5" height="46" fill="#FDC4C4"/>
<rect x="185.5" y="1909" width="194.5" height="46" fill="#FDC8C8"/>
<rect x="380" y="1909" width="195" height="46" fill="#FDC8C8"/>
<rect x="575" y="1909" width="194.5" height="46" fill="#FCB8B8"/>
<rect x="185.5" y="1955" width="194.5" height="46" fill="#FDE2E2"/>
<rect x="380" y="1955" width="195" height="46" fill="#F3F3FE"/>
<rect x="575" y="1955" width="194.5" height="46" fill="#FDBCBC"/>
<rect x="185.5" y="2001" width="194.5" height="46" fill="#FDD0D0"/>
<rect x="380" y="2001" width="195" height="46" fill="#EAEAFD"/>
<rect x="575" y="2001" width="194.5" height="46" fill="#FFF5F5"/>
<rect x="185.5" y="2047" width="194.5" height="46.5" fill="#FFFDFB"/>
<rect x="380" y="2047" width="195" height="46.5" fill="#FDE0E0"/>
<rect x="575" y="2047" width="194.5" height="46.5" fill="#FDD8D8"/>
<line x1="185.5" y1="1264" x2="769.5" y2="1264" stroke="#000" stroke-width="2.0"/>
<line x1="185.5" y1="1310" x2="769.5" y2="1310" stroke="#000" stroke-width="2.0"/>
<line x1="185.5" y1="1356" x2="769.5" y2="1356" stroke="#000" stroke-width="2.0"/>
<line x1="185.5" y1="1402" x2="769.5" y2="1402" stroke="#000" stroke-width="2.0"/>
<line x1="185.5" y1="1448" x2="769.5" y2="1448" stroke="#000" stroke-width="2.0"/>
<line x1="185.5" y1="1494" x2="769.5" y2="1494" stroke="#000" stroke-width="2.0"/>
<line x1="185.5" y1="1540" x2="769.5" y2="1540" stroke="#000" stroke-width="2.0"/>
<line x1="185.5" y1="1586" x2="769.5" y2="1586" stroke="#000" stroke-width="2.0"/>
<line x1="185.5" y1="1632" x2="769.5" y2="1632" stroke="#000" stroke-width="2.0"/>
<line x1="185.5" y1="1679" x2="769.5" y2="1679" stroke="#000" stroke-width="2.0"/>
<line x1="185.5" y1="1725" x2="769.5" y2="1725" stroke="#000" stroke-width="2.0"/>
<line x1="185.5" y1="1771" x2="769.5" y2="1771" stroke="#000" stroke-width="2.0"/>
<line x1="185.5" y1="1817" x2="769.5" y2="1817" stroke="#000" stroke-width="2.0"/>
<line x1="185.5" y1="1863" x2="769.5" y2="1863" stroke="#000" stroke-width="2.0"/>
<line x1="185.5" y1="1909" x2="769.5" y2="1909" stroke="#000" stroke-width="2.0"/>
<line x1="185.5" y1="1955" x2="769.5" y2="1955" stroke="#000" stroke-width="2.0"/>
<line x1="185.5" y1="2001" x2="769.5" y2="2001" stroke="#000" stroke-width="2.0"/>
<line x1="185.5" y1="2047" x2="769.5" y2="2047" stroke="#000" stroke-width="2.0"/>
<line x1="380" y1="1218.5" x2="380" y2="2093.5" stroke="#000" stroke-width="2.0"/>
<line x1="575" y1="1218.5" x2="575" y2="2093.5" stroke="#000" stroke-width="2.0"/>
<rect x="185.5" y="1218.5" width="584.0" height="875.0" fill="none" stroke="#000" stroke-width="3.0" stroke-linejoin="round"/>
<text x="86.70" y="1250.8" font-size="29.5" textLength="87.24" lengthAdjust="spacingAndGlyphs">IFN-&#945;2a</text>
<text x="128.70" y="1296.9" font-size="29.5" textLength="43.48" lengthAdjust="spacingAndGlyphs">IL-6</text>
<text x="128.70" y="1342.9" font-size="29.5" textLength="43.48" lengthAdjust="spacingAndGlyphs">IL-2</text>
<text x="24.70" y="1389.0" font-size="29.5" textLength="155.25" lengthAdjust="spacingAndGlyphs">IL-12/IL-23p40</text>
<text x="115.70" y="1435.0" font-size="29.5" textLength="57.36" lengthAdjust="spacingAndGlyphs">IL-15</text>
<text x="104.70" y="1481.1" font-size="29.5" textLength="69.23" lengthAdjust="spacingAndGlyphs">TNF-&#945;</text>
<text x="106.70" y="1527.1" font-size="29.5" textLength="67.21" lengthAdjust="spacingAndGlyphs">TNF-&#946;</text>
<text x="114.70" y="1573.2" font-size="29.5" textLength="57.31" lengthAdjust="spacingAndGlyphs">IP-10</text>
<text x="95.70" y="1619.2" font-size="29.5" textLength="79.29" lengthAdjust="spacingAndGlyphs">MIP-1&#946;</text>
<text x="78.70" y="1665.3" font-size="29.5" textLength="97.28" lengthAdjust="spacingAndGlyphs">RANTES</text>
<text x="128.70" y="1711.4" font-size="29.5" textLength="42.42" lengthAdjust="spacingAndGlyphs">IL-8</text>
<text x="98.70" y="1757.4" font-size="29.5" textLength="74.27" lengthAdjust="spacingAndGlyphs">MCP-1</text>
<text x="94.70" y="1803.5" font-size="29.5" textLength="80.31" lengthAdjust="spacingAndGlyphs">Eotaxin</text>
<text x="117.70" y="1849.5" font-size="29.5" textLength="54.37" lengthAdjust="spacingAndGlyphs">IL-10</text>
<text x="99.70" y="1895.6" font-size="29.5" textLength="74.26" lengthAdjust="spacingAndGlyphs">IL-1RA</text>
<text x="129.70" y="1941.6" font-size="29.5" textLength="42.37" lengthAdjust="spacingAndGlyphs">IL-7</text>
<text x="99.70" y="1987.7" font-size="29.5" textLength="74.26" lengthAdjust="spacingAndGlyphs">G-CSF</text>
<text x="121.70" y="2033.7" font-size="29.5" textLength="50.26" lengthAdjust="spacingAndGlyphs">CRP</text>
<text x="124.70" y="2079.8" font-size="29.5" textLength="46.23" lengthAdjust="spacingAndGlyphs">SAA</text>
<text x="287" y="1201.8" font-size="34.5" text-anchor="middle" >Neg. Ctrl</text>
<text x="482.8" y="1201.8" font-size="34.5" text-anchor="middle" >IgM-tail</text>
<text x="672.2" y="1201.8" font-size="34.5" text-anchor="middle" >aIgA</text>
<rect x="185.9" y="2106.0" width="583.4" height="50.30000000000018" fill="url(#cb)"/>
<line x1="331.75" y1="2106.0" x2="331.75" y2="2113.75" stroke="#000" stroke-width="3"/>
<line x1="331.75" y1="2156.3" x2="331.75" y2="2148.55" stroke="#000" stroke-width="3"/>
<line x1="477.60" y1="2106.0" x2="477.60" y2="2113.75" stroke="#000" stroke-width="3"/>
<line x1="477.60" y1="2156.3" x2="477.60" y2="2148.55" stroke="#000" stroke-width="3"/>
<line x1="623.45" y1="2106.0" x2="623.45" y2="2113.75" stroke="#000" stroke-width="3"/>
<line x1="623.45" y1="2156.3" x2="623.45" y2="2148.55" stroke="#000" stroke-width="3"/>
<rect x="185.9" y="2106.0" width="583.4" height="50.30000000000018" fill="none" stroke="#000" stroke-width="3.5" stroke-linejoin="round"/>
<text x="185.0" y="2192.1" font-size="29" text-anchor="middle" >-2.0</text>
<text x="331.9" y="2192.1" font-size="29" text-anchor="middle" >-1.0</text>
<text x="477.8" y="2192.1" font-size="29" text-anchor="middle" >0</text>
<text x="623.7" y="2192.1" font-size="29" text-anchor="middle" >1.0</text>
<text x="769.6" y="2192.1" font-size="29" text-anchor="middle" >2.0</text>
<text x="302.5" y="2233" font-size="29.0">Fold change [Log<tspan font-size="17.5" dy="10">2</tspan><tspan dy="-10">(24h/0h)]</tspan></text>
<text transform="translate(-2.8,1194.3) scale(1.02,1)" font-size="68.5" font-weight="bold">c</text>
<text transform="translate(846.4,1486.7) scale(1.02,1)" font-size="68.5" font-weight="bold">d</text>
<text x="1096.9" y="1486.5" font-size="33.3" text-anchor="middle" >Vagina</text>
<text x="1482.3" y="1486.5" font-size="33.3" text-anchor="middle" >Cervix</text>
<text x="1852.1" y="1486.5" font-size="33.3" text-anchor="middle" >Uterus</text>
<text transform="translate(903,1688.7) rotate(-90)" font-size="34" text-anchor="middle">Negative control</text>
<text transform="translate(903,2059) rotate(-90)" font-size="34" text-anchor="middle">mRNA-treated</text>
<g transform="translate(914,1498) scale(1.00000,1.00000)" clip-path="url(#clip00)">
<rect x="-5" y="-5" width="381" height="381" fill="#EAA0CE"/>
<path d="M60.0,56.0 C69.2,48.2 73.0,9.3 95.0,0.0 C117.0,-9.3 172.5,-8.8 192.0,0.0 C211.5,8.8 207.0,35.2 212.0,53.0 C217.0,70.8 219.7,92.3 222.0,107.0 C224.3,121.7 227.2,133.8 226.0,141.0 C224.8,148.2 222.7,151.8 215.0,150.0 C207.3,148.2 192.5,135.8 180.0,130.0 C167.5,124.2 153.3,119.3 140.0,115.0 C126.7,110.7 113.3,105.2 100.0,104.0 C86.7,102.8 76.7,106.7 60.0,108.0 C43.3,109.3 10.0,122.0 0.0,112.0 C-10.0,102.0 -6.7,58.8 0.0,48.0 C6.7,37.2 30.0,45.7 40.0,47.0 C50.0,48.3 50.8,63.8 60.0,56.0 Z" fill="#EE98CB" filter="url(#bl6)" opacity="1.0"/>
<path d="M273.0,0.0 C282.0,-8.3 314.5,-13.3 322.0,0.0 C329.5,13.3 320.8,56.7 318.0,80.0 C315.2,103.3 308.0,124.2 305.0,140.0 C302.0,155.8 307.2,166.7 300.0,175.0 C292.8,183.3 270.3,194.2 262.0,190.0 C253.7,185.8 250.7,165.0 250.0,150.0 C249.3,135.0 255.0,116.7 258.0,100.0 C261.0,83.3 265.5,66.7 268.0,50.0 C270.5,33.3 264.0,8.3 273.0,0.0 Z" fill="#EC98CA" filter="url(#bl5)" opacity="1.0"/>
<path d="M150.0,135.0 C159.7,121.3 187.3,130.8 200.0,140.0 C212.7,149.2 224.0,174.7 226.0,190.0 C228.0,205.3 217.7,220.0 212.0,232.0 C206.3,244.0 199.0,252.0 192.0,262.0 C185.0,272.0 177.0,290.3 170.0,292.0 C163.0,293.7 154.7,283.7 150.0,272.0 C145.3,260.3 142.0,244.8 142.0,222.0 C142.0,199.2 140.3,148.7 150.0,135.0 Z" fill="#F2B8DB" filter="url(#bl6)" opacity="1.0"/>
<path d="M-5.0,140.0 C14.2,124.0 89.2,125.0 110.0,140.0 C130.8,155.0 128.3,214.7 120.0,230.0 C111.7,245.3 80.8,231.0 60.0,232.0 C39.2,233.0 5.8,251.3 -5.0,236.0 C-15.8,220.7 -24.2,156.0 -5.0,140.0 Z" fill="#E3A3D2" filter="url(#bl6)" opacity="1.0"/>
<path d="M322.0,-5.0 C330.3,-22.5 367.0,-59.2 376.0,-5.0 C385.0,49.2 382.8,265.8 376.0,320.0 C369.2,374.2 341.7,340.0 335.0,320.0 C328.3,300.0 337.5,236.7 336.0,200.0 C334.5,163.3 328.3,134.2 326.0,100.0 C323.7,65.8 313.7,12.5 322.0,-5.0 Z" fill="#E0ACD8" filter="url(#bl5)" opacity="1.0"/>
<path d="M-5.0,345.0 C15.8,341.0 77.5,352.5 120.0,352.0 C162.5,351.5 220.0,347.0 250.0,342.0 C280.0,337.0 279.0,326.5 300.0,322.0 C321.0,317.5 363.3,306.0 376.0,315.0 C388.7,324.0 439.5,365.8 376.0,376.0 C312.5,386.2 58.5,381.2 -5.0,376.0 C-68.5,370.8 -25.8,349.0 -5.0,345.0 Z" fill="#E2A4D2" filter="url(#bl5)" opacity="1.0"/>
<path d="M-5.0,232.0 C2.5,211.7 25.8,225.7 40.0,224.0 C54.2,222.3 68.0,221.3 80.0,222.0 C92.0,222.7 104.3,221.3 112.0,228.0 C119.7,234.7 121.3,250.3 126.0,262.0 C130.7,273.7 132.7,288.7 140.0,298.0 C147.3,307.3 158.3,314.0 170.0,318.0 C181.7,322.0 198.3,324.0 210.0,322.0 C221.7,320.0 231.3,309.7 240.0,306.0 C248.7,302.3 257.0,297.3 262.0,300.0 C267.0,302.7 272.0,315.0 270.0,322.0 C268.0,329.0 261.7,337.0 250.0,342.0 C238.3,347.0 221.7,350.3 200.0,352.0 C178.3,353.7 143.3,353.0 120.0,352.0 C96.7,351.0 80.8,347.0 60.0,346.0 C39.2,345.0 5.8,365.0 -5.0,346.0 C-15.8,327.0 -12.5,252.3 -5.0,232.0 Z" fill="#D2A2D2" filter="url(#bl5)" opacity="1.0"/>
<path d="M262.0,185.0 C268.3,169.7 289.5,167.5 300.0,170.0 C310.5,172.5 319.7,185.0 325.0,200.0 C330.3,215.0 332.5,243.3 332.0,260.0 C331.5,276.7 327.0,290.3 322.0,300.0 C317.0,309.7 310.3,317.0 302.0,318.0 C293.7,319.0 278.7,315.3 272.0,306.0 C265.3,296.7 263.7,282.2 262.0,262.0 C260.3,241.8 255.7,200.3 262.0,185.0 Z" fill="#D2A2D2" filter="url(#bl5)" opacity="1.0"/>
<path d="M-5.0,232.0 C2.5,211.7 25.8,225.7 40.0,224.0 C54.2,222.3 68.0,221.3 80.0,222.0 C92.0,222.7 104.3,221.3 112.0,228.0 C119.7,234.7 121.3,250.3 126.0,262.0 C130.7,273.7 132.7,288.7 140.0,298.0 C147.3,307.3 158.3,314.0 170.0,318.0 C181.7,322.0 198.3,324.0 210.0,322.0 C221.7,320.0 231.3,309.7 240.0,306.0 C248.7,302.3 257.0,297.3 262.0,300.0 C267.0,302.7 272.0,315.0 270.0,322.0 C268.0,329.0 261.7,337.0 250.0,342.0 C238.3,347.0 221.7,350.3 200.0,352.0 C178.3,353.7 143.3,353.0 120.0,352.0 C96.7,351.0 80.8,347.0 60.0,346.0 C39.2,345.0 5.8,365.0 -5.0,346.0 C-15.8,327.0 -12.5,252.3 -5.0,232.0 Z" fill="#9868B4" filter="url(#blot0)" opacity="0.85"/>
<path d="M262.0,185.0 C268.3,169.7 289.5,167.5 300.0,170.0 C310.5,172.5 319.7,185.0 325.0,200.0 C330.3,215.0 332.5,243.3 332.0,260.0 C331.5,276.7 327.0,290.3 322.0,300.0 C317.0,309.7 310.3,317.0 302.0,318.0 C293.7,319.0 278.7,315.3 272.0,306.0 C265.3,296.7 263.7,282.2 262.0,262.0 C260.3,241.8 255.7,200.3 262.0,185.0 Z" fill="#9868B4" filter="url(#blot1)" opacity="0.85"/>
<path d="M-5.0,108.0 C2.5,101.7 24.2,105.3 40.0,104.0 C55.8,102.7 76.7,100.0 90.0,100.0 C103.3,100.0 111.7,101.3 120.0,104.0 C128.3,106.7 135.0,110.0 140.0,116.0 C145.0,122.0 148.0,130.2 150.0,140.0 C152.0,149.8 153.0,163.0 152.0,175.0 C151.0,187.0 146.7,200.2 144.0,212.0 C141.3,223.8 141.3,241.0 136.0,246.0 C130.7,251.0 115.3,249.7 112.0,242.0 C108.7,234.3 115.0,213.7 116.0,200.0 C117.0,186.3 118.7,170.3 118.0,160.0 C117.3,149.7 118.3,141.7 112.0,138.0 C105.7,134.3 92.0,137.7 80.0,138.0 C68.0,138.3 54.2,139.3 40.0,140.0 C25.8,140.7 2.5,147.3 -5.0,142.0 C-12.5,136.7 -12.5,114.3 -5.0,108.0 Z" fill="#D49ED0" filter="url(#bl5)" opacity="0.6"/>
<path d="M-5.0,108.0 C2.5,101.7 24.2,105.3 40.0,104.0 C55.8,102.7 76.7,100.0 90.0,100.0 C103.3,100.0 111.7,101.3 120.0,104.0 C128.3,106.7 135.0,110.0 140.0,116.0 C145.0,122.0 148.0,130.2 150.0,140.0 C152.0,149.8 153.0,163.0 152.0,175.0 C151.0,187.0 146.7,200.2 144.0,212.0 C141.3,223.8 141.3,241.0 136.0,246.0 C130.7,251.0 115.3,249.7 112.0,242.0 C108.7,234.3 115.0,213.7 116.0,200.0 C117.0,186.3 118.7,170.3 118.0,160.0 C117.3,149.7 118.3,141.7 112.0,138.0 C105.7,134.3 92.0,137.7 80.0,138.0 C68.0,138.3 54.2,139.3 40.0,140.0 C25.8,140.7 2.5,147.3 -5.0,142.0 C-12.5,136.7 -12.5,114.3 -5.0,108.0 Z" fill="#9466B4" filter="url(#blot2)" opacity="0.85"/>
<path d="M298.0,115.0 C300.0,101.7 312.0,105.8 318.0,120.0 C324.0,134.2 332.0,177.5 334.0,200.0 C336.0,222.5 332.7,244.2 330.0,255.0 C327.3,265.8 322.0,274.2 318.0,265.0 C314.0,255.8 309.3,225.0 306.0,200.0 C302.7,175.0 296.0,128.3 298.0,115.0 Z" fill="#B07CC0" filter="url(#blot3)" opacity="1.0"/>
<path d="M0.0,48.0 C10.0,39.3 44.2,64.0 60.0,56.0 C75.8,48.0 73.0,9.3 95.0,0.0 C117.0,-9.3 172.5,-8.8 192.0,0.0 C211.5,8.8 207.0,35.2 212.0,53.0 C217.0,70.8 219.7,92.3 222.0,107.0 C224.3,121.7 229.7,136.3 226.0,141.0 C222.3,145.7 214.3,138.8 200.0,135.0 C185.7,131.2 163.3,122.8 140.0,118.0 C116.7,113.2 83.3,107.7 60.0,106.0 C36.7,104.3 10.0,117.7 0.0,108.0 C-10.0,98.3 -10.0,56.7 0.0,48.0 Z" fill="#F7D2E8" filter="url(#blot4)" opacity="0.85"/>
<path d="M150.0,135.0 C159.7,121.3 187.3,130.8 200.0,140.0 C212.7,149.2 224.0,174.7 226.0,190.0 C228.0,205.3 217.7,220.0 212.0,232.0 C206.3,244.0 199.0,252.0 192.0,262.0 C185.0,272.0 177.0,290.3 170.0,292.0 C163.0,293.7 154.7,283.7 150.0,272.0 C145.3,260.3 142.0,244.8 142.0,222.0 C142.0,199.2 140.3,148.7 150.0,135.0 Z" fill="#F7D2E8" filter="url(#blot5)" opacity="0.85"/>
<path d="M-5.0,232.0 C2.5,211.7 25.8,225.7 40.0,224.0 C54.2,222.3 68.0,221.3 80.0,222.0 C92.0,222.7 104.3,221.3 112.0,228.0 C119.7,234.7 121.3,250.3 126.0,262.0 C130.7,273.7 132.7,288.7 140.0,298.0 C147.3,307.3 158.3,314.0 170.0,318.0 C181.7,322.0 198.3,324.0 210.0,322.0 C221.7,320.0 231.3,309.7 240.0,306.0 C248.7,302.3 257.0,297.3 262.0,300.0 C267.0,302.7 272.0,315.0 270.0,322.0 C268.0,329.0 261.7,337.0 250.0,342.0 C238.3,347.0 221.7,350.3 200.0,352.0 C178.3,353.7 143.3,353.0 120.0,352.0 C96.7,351.0 80.8,347.0 60.0,346.0 C39.2,345.0 5.8,365.0 -5.0,346.0 C-15.8,327.0 -12.5,252.3 -5.0,232.0 Z" fill="#F7D6EA" filter="url(#blot6)" opacity="0.9"/>
<rect x="0" y="0" width="371" height="371" filter="url(#tex2)" opacity="0.3"/>
<rect x="0" y="0" width="371" height="371" filter="url(#tex_md)" opacity="0.85"/>
<path d="M-5.0,-5.0 C11.7,-13.8 78.7,-8.5 95.0,-5.0 C111.3,-1.5 94.7,11.2 93.0,16.0 C91.3,20.8 88.3,20.3 85.0,24.0 C81.7,27.7 75.7,34.3 73.0,38.0 C70.3,41.7 71.0,43.0 69.0,46.0 C67.0,49.0 63.7,54.5 61.0,56.0 C58.3,57.5 56.5,56.5 53.0,55.0 C49.5,53.5 44.8,48.5 40.0,47.0 C35.2,45.5 28.7,45.5 24.0,46.0 C19.3,46.5 16.8,49.7 12.0,50.0 C7.2,50.3 -2.2,57.2 -5.0,48.0 C-7.8,38.8 -21.7,3.8 -5.0,-5.0 Z" fill="#F6F6F8" filter="url(#bl1_5)"/>
<path d="M192.0,-5.0 C180.2,-2.2 199.3,7.2 202.0,12.0 C204.7,16.8 206.3,17.2 208.0,24.0 C209.7,30.8 211.0,43.5 212.0,53.0 C213.0,62.5 213.0,75.3 214.0,81.0 C215.0,86.7 216.7,82.7 218.0,87.0 C219.3,91.3 221.7,101.3 222.0,107.0 C222.3,112.7 219.3,115.3 220.0,121.0 C220.7,126.7 225.3,134.2 226.0,141.0 C226.7,147.8 224.2,155.2 224.0,162.0 C223.8,168.8 224.3,175.3 225.0,182.0 C225.7,188.7 229.2,196.7 228.0,202.0 C226.8,207.3 221.7,209.7 218.0,214.0 C214.3,218.3 209.3,223.0 206.0,228.0 C202.7,233.0 198.7,241.0 198.0,244.0 C197.3,247.0 199.3,248.0 202.0,246.0 C204.7,244.0 209.3,237.3 214.0,232.0 C218.7,226.7 223.7,220.3 230.0,214.0 C236.3,207.7 249.3,201.0 252.0,194.0 C254.7,187.0 247.3,180.8 246.0,172.0 C244.7,163.2 243.3,150.2 244.0,141.0 C244.7,131.8 247.7,123.7 250.0,117.0 C252.3,110.3 255.5,107.0 258.0,101.0 C260.5,95.0 263.5,89.3 265.0,81.0 C266.5,72.7 266.0,60.5 267.0,51.0 C268.0,41.5 270.0,33.3 271.0,24.0 C272.0,14.7 286.2,-0.2 273.0,-5.0 C259.8,-9.8 203.8,-7.8 192.0,-5.0 Z" fill="#F6F6F8" filter="url(#bl1_5)"/>
<rect x="336" y="359.5" width="28.5" height="4.5" fill="#111"/>
</g>
<g transform="translate(1293,1498) scale(1.00000,1.00000)" clip-path="url(#clip01)">
<rect x="-5" y="-5" width="381" height="381" fill="#E090C8"/>
<path d="M-5,52 L50,58 L100,77 L160,95 L220,117 L300,147 L376,182 L376,376 L333,376 L323,343 L303,283 L263,253 L202,198 L141,182 L81,158 L40,150 L-5,145Z" fill="#E97BBD" filter="url(#bl2)" opacity="1.0"/>
<path d="M-5.0,113.0 C2.5,109.0 25.7,118.0 40.0,121.0 C54.3,124.0 64.2,125.5 81.0,131.0 C97.8,136.5 120.8,146.5 141.0,154.0 C161.2,161.5 181.7,166.3 202.0,176.0 C222.3,185.7 246.2,201.0 263.0,212.0 C279.8,223.0 291.3,230.2 303.0,242.0 C314.7,253.8 324.5,269.5 333.0,283.0 C341.5,296.5 348.8,307.5 354.0,323.0 C359.2,338.5 367.5,367.2 364.0,376.0 C360.5,384.8 339.8,381.5 333.0,376.0 C326.2,370.5 328.0,358.5 323.0,343.0 C318.0,327.5 313.0,298.0 303.0,283.0 C293.0,268.0 279.8,267.2 263.0,253.0 C246.2,238.8 222.3,209.8 202.0,198.0 C181.7,186.2 161.2,188.7 141.0,182.0 C120.8,175.3 97.8,163.3 81.0,158.0 C64.2,152.7 54.3,152.2 40.0,150.0 C25.7,147.8 2.5,151.2 -5.0,145.0 C-12.5,138.8 -12.5,117.0 -5.0,113.0 Z" fill="#B574BC" filter="url(#bl4)" opacity="1.0"/>
<path d="M-5.0,113.0 C2.5,109.0 25.7,118.0 40.0,121.0 C54.3,124.0 64.2,125.5 81.0,131.0 C97.8,136.5 120.8,146.5 141.0,154.0 C161.2,161.5 181.7,166.3 202.0,176.0 C222.3,185.7 246.2,201.0 263.0,212.0 C279.8,223.0 291.3,230.2 303.0,242.0 C314.7,253.8 324.5,269.5 333.0,283.0 C341.5,296.5 348.8,307.5 354.0,323.0 C359.2,338.5 367.5,367.2 364.0,376.0 C360.5,384.8 339.8,381.5 333.0,376.0 C326.2,370.5 328.0,358.5 323.0,343.0 C318.0,327.5 313.0,298.0 303.0,283.0 C293.0,268.0 279.8,267.2 263.0,253.0 C246.2,238.8 222.3,209.8 202.0,198.0 C181.7,186.2 161.2,188.7 141.0,182.0 C120.8,175.3 97.8,163.3 81.0,158.0 C64.2,152.7 54.3,152.2 40.0,150.0 C25.7,147.8 2.5,151.2 -5.0,145.0 C-12.5,138.8 -12.5,117.0 -5.0,113.0 Z" fill="#9A5EAE" filter="url(#blot7)" opacity="1.0"/>
<path d="M152,182 L154,200 M170,188 L173,206 M188,194 L192,212 M206,200 L211,218 M226,212 L232,230 M246,230 L252,248 M266,250 L273,266 M286,264 L292,282 M300,282 L305,300 M312,302 L316,322 M320,322 L324,342" stroke="#9F63B0" stroke-width="7" stroke-linecap="round" fill="none" filter="url(#bl1_5)" opacity="1.0"/>
<path d="M-5.0,150.0 C19.2,118.2 84.2,147.3 140.0,185.0 C195.8,222.7 354.2,344.2 330.0,376.0 C305.8,407.8 50.8,413.7 -5.0,376.0 C-60.8,338.3 -29.2,181.8 -5.0,150.0 Z" fill="#B870B8" filter="url(#blot8)" opacity="0.7"/>
<rect x="0" y="0" width="371" height="371" filter="url(#tex2)" opacity="0.2"/>
<rect x="0" y="0" width="371" height="371" filter="url(#tex_hi)" opacity="0.85"/>
<path d="M-5.0,-5.0 C58.5,-14.5 312.5,-35.8 376.0,-5.0 C439.5,25.8 388.7,154.7 376.0,180.0 C363.3,205.3 326.0,157.5 300.0,147.0 C274.0,136.5 243.3,125.7 220.0,117.0 C196.7,108.3 180.0,101.7 160.0,95.0 C140.0,88.3 118.3,83.2 100.0,77.0 C81.7,70.8 67.5,62.2 50.0,58.0 C32.5,53.8 4.2,62.5 -5.0,52.0 C-14.2,41.5 -68.5,4.5 -5.0,-5.0 Z" fill="#F6F6F8" filter="url(#bl1_5)"/>
<path d="M-5.0,354.0 C-2.5,351.5 6.2,357.3 10.0,361.0 C13.8,364.7 20.5,373.5 18.0,376.0 C15.5,378.5 -1.2,379.7 -5.0,376.0 C-8.8,372.3 -7.5,356.5 -5.0,354.0 Z" fill="#F6F6F8" filter="url(#bl1_5)"/>
<path d="M120.0,367.0 C125.0,364.8 140.0,361.5 150.0,363.0 C160.0,364.5 185.0,373.8 180.0,376.0 C175.0,378.2 130.0,377.5 120.0,376.0 C110.0,374.5 115.0,369.2 120.0,367.0 Z" fill="#F6F6F8" filter="url(#bl1_5)"/>
<rect x="336" y="359.5" width="28.5" height="4.5" fill="#111"/>
</g>
<g transform="translate(1671,1498) scale(1.00000,1.00000)" clip-path="url(#clip02)">
<rect x="-5" y="-5" width="381" height="381" fill="#A674BE"/>
<path d="M-5.0,105.0 C-1.5,93.2 10.2,110.7 16.0,109.0 C21.8,107.3 22.5,100.0 30.0,95.0 C37.5,90.0 50.8,83.3 61.0,79.0 C71.2,74.7 84.7,72.7 91.0,69.0 C97.3,65.3 96.7,61.5 99.0,57.0 C101.3,52.5 98.0,46.5 105.0,42.0 C112.0,37.5 128.2,32.7 141.0,30.0 C153.8,27.3 167.5,27.7 182.0,26.0 C196.5,24.3 218.0,20.0 228.0,20.0 C238.0,20.0 238.3,26.7 242.0,26.0 C245.7,25.3 243.2,18.0 250.0,16.0 C256.8,14.0 273.5,13.0 283.0,14.0 C292.5,15.0 300.3,19.0 307.0,22.0 C313.7,25.0 319.7,33.3 323.0,32.0 C326.3,30.7 324.3,20.2 327.0,14.0 C329.7,7.8 330.8,-1.8 339.0,-5.0 C347.2,-8.2 369.8,-21.2 376.0,-5.0 C382.2,11.2 383.7,74.5 376.0,92.0 C368.3,109.5 344.3,98.7 330.0,100.0 C315.7,101.3 303.3,98.3 290.0,100.0 C276.7,101.7 265.0,106.3 250.0,110.0 C235.0,113.7 216.7,117.0 200.0,122.0 C183.3,127.0 166.7,133.7 150.0,140.0 C133.3,146.3 116.7,154.7 100.0,160.0 C83.3,165.3 67.5,168.7 50.0,172.0 C32.5,175.3 4.2,191.2 -5.0,180.0 C-14.2,168.8 -8.5,116.8 -5.0,105.0 Z" fill="#DDA5D6" filter="url(#bl6)" opacity="1.0"/>
<path d="M-5.0,180.0 C4.2,168.7 32.5,175.3 50.0,172.0 C67.5,168.7 83.3,165.3 100.0,160.0 C116.7,154.7 146.7,137.5 150.0,140.0 C153.3,142.5 135.0,165.0 120.0,175.0 C105.0,185.0 76.7,190.8 60.0,200.0 C43.3,209.2 30.8,223.3 20.0,230.0 C9.2,236.7 -0.8,248.3 -5.0,240.0 C-9.2,231.7 -14.2,191.3 -5.0,180.0 Z" fill="#C490CA" filter="url(#bl6)" opacity="1.0"/>
<path d="M-5.0,105.0 C-1.5,93.2 10.2,110.7 16.0,109.0 C21.8,107.3 22.5,100.0 30.0,95.0 C37.5,90.0 50.8,83.3 61.0,79.0 C71.2,74.7 84.7,72.7 91.0,69.0 C97.3,65.3 96.7,61.5 99.0,57.0 C101.3,52.5 98.0,46.5 105.0,42.0 C112.0,37.5 128.2,32.7 141.0,30.0 C153.8,27.3 167.5,27.7 182.0,26.0 C196.5,24.3 218.0,20.0 228.0,20.0 C238.0,20.0 238.3,26.7 242.0,26.0 C245.7,25.3 243.2,18.0 250.0,16.0 C256.8,14.0 273.5,13.0 283.0,14.0 C292.5,15.0 300.3,19.0 307.0,22.0 C313.7,25.0 319.7,33.3 323.0,32.0 C326.3,30.7 324.3,20.2 327.0,14.0 C329.7,7.8 330.8,-1.8 339.0,-5.0 C347.2,-8.2 369.8,-21.2 376.0,-5.0 C382.2,11.2 383.7,74.5 376.0,92.0 C368.3,109.5 344.3,98.7 330.0,100.0 C315.7,101.3 303.3,98.3 290.0,100.0 C276.7,101.7 265.0,106.3 250.0,110.0 C235.0,113.7 216.7,117.0 200.0,122.0 C183.3,127.0 166.7,133.7 150.0,140.0 C133.3,146.3 116.7,154.7 100.0,160.0 C83.3,165.3 67.5,168.7 50.0,172.0 C32.5,175.3 4.2,191.2 -5.0,180.0 C-14.2,168.8 -8.5,116.8 -5.0,105.0 Z" fill="#9A66B6" filter="url(#blot9)" opacity="0.8"/>
<path d="M-5.0,105.0 C-1.5,93.2 10.2,110.7 16.0,109.0 C21.8,107.3 22.5,100.0 30.0,95.0 C37.5,90.0 50.8,83.3 61.0,79.0 C71.2,74.7 84.7,72.7 91.0,69.0 C97.3,65.3 96.7,61.5 99.0,57.0 C101.3,52.5 98.0,46.5 105.0,42.0 C112.0,37.5 128.2,32.7 141.0,30.0 C153.8,27.3 167.5,27.7 182.0,26.0 C196.5,24.3 218.0,20.0 228.0,20.0 C238.0,20.0 238.3,26.7 242.0,26.0 C245.7,25.3 243.2,18.0 250.0,16.0 C256.8,14.0 273.5,13.0 283.0,14.0 C292.5,15.0 300.3,19.0 307.0,22.0 C313.7,25.0 319.7,33.3 323.0,32.0 C326.3,30.7 324.3,20.2 327.0,14.0 C329.7,7.8 330.8,-1.8 339.0,-5.0 C347.2,-8.2 369.8,-21.2 376.0,-5.0 C382.2,11.2 383.7,74.5 376.0,92.0 C368.3,109.5 344.3,98.7 330.0,100.0 C315.7,101.3 303.3,98.3 290.0,100.0 C276.7,101.7 265.0,106.3 250.0,110.0 C235.0,113.7 216.7,117.0 200.0,122.0 C183.3,127.0 166.7,133.7 150.0,140.0 C133.3,146.3 116.7,154.7 100.0,160.0 C83.3,165.3 67.5,168.7 50.0,172.0 C32.5,175.3 4.2,191.2 -5.0,180.0 C-14.2,168.8 -8.5,116.8 -5.0,105.0 Z" fill="#F2CFE6" filter="url(#blot10)" opacity="0.9"/>
<path d="M-5.0,170.0 C12.5,132.3 36.5,165.0 100.0,150.0 C163.5,135.0 330.0,42.3 376.0,80.0 C422.0,117.7 439.5,326.7 376.0,376.0 C312.5,425.3 58.5,410.3 -5.0,376.0 C-68.5,341.7 -22.5,207.7 -5.0,170.0 Z" fill="#DCA0D2" filter="url(#blot11)" opacity="1.0"/>
<path d="M-5.0,170.0 C12.5,132.3 36.5,165.0 100.0,150.0 C163.5,135.0 330.0,42.3 376.0,80.0 C422.0,117.7 439.5,326.7 376.0,376.0 C312.5,425.3 58.5,410.3 -5.0,376.0 C-68.5,341.7 -22.5,207.7 -5.0,170.0 Z" fill="#8656AA" filter="url(#blot12)" opacity="0.8"/>
<path d="M190.0,240.0 C195.8,237.2 218.3,240.8 225.0,245.0 C231.7,249.2 233.3,260.0 230.0,265.0 C226.7,270.0 211.7,275.5 205.0,275.0 C198.3,274.5 192.5,267.8 190.0,262.0 C187.5,256.2 184.2,242.8 190.0,240.0 Z" fill="#E4ACD8" filter="url(#bl4)" opacity="1.0"/>
<path d="M300.0,250.0 C302.8,245.5 318.3,241.3 322.0,245.0 C325.7,248.7 324.8,267.5 322.0,272.0 C319.2,276.5 308.7,275.7 305.0,272.0 C301.3,268.3 297.2,254.5 300.0,250.0 Z" fill="#E4ACD8" filter="url(#bl4)" opacity="1.0"/>
<rect x="0" y="0" width="371" height="371" filter="url(#tex2)" opacity="0.25"/>
<rect x="0" y="0" width="371" height="371" filter="url(#tex_vh)" opacity="0.7"/>
<path d="M-5.0,105.0 C-1.5,124.8 10.2,110.7 16.0,109.0 C21.8,107.3 22.5,100.0 30.0,95.0 C37.5,90.0 50.8,83.3 61.0,79.0 C71.2,74.7 84.7,72.7 91.0,69.0 C97.3,65.3 96.7,61.5 99.0,57.0 C101.3,52.5 98.0,46.5 105.0,42.0 C112.0,37.5 128.2,32.7 141.0,30.0 C153.8,27.3 167.5,27.7 182.0,26.0 C196.5,24.3 218.0,20.0 228.0,20.0 C238.0,20.0 238.3,26.7 242.0,26.0 C245.7,25.3 243.2,18.0 250.0,16.0 C256.8,14.0 273.5,13.0 283.0,14.0 C292.5,15.0 300.3,19.0 307.0,22.0 C313.7,25.0 319.7,33.3 323.0,32.0 C326.3,30.7 324.3,20.2 327.0,14.0 C329.7,7.8 330.8,-1.8 339.0,-5.0 C347.2,-8.2 369.8,-4.2 376.0,-5.0 C382.2,-5.8 439.5,-9.2 376.0,-10.0 C312.5,-10.8 58.5,-29.2 -5.0,-10.0 C-68.5,9.2 -8.5,85.2 -5.0,105.0 Z" fill="#F6F6F8" filter="url(#bl1_5)"/>
<path d="M355.0,30.0 C357.7,25.8 372.5,21.3 376.0,25.0 C379.5,28.7 378.7,47.8 376.0,52.0 C373.3,56.2 363.5,53.7 360.0,50.0 C356.5,46.3 352.3,34.2 355.0,30.0 Z" fill="#F6F6F8" filter="url(#bl1_5)"/>
<path d="M22.0,128.0 C23.7,124.2 34.0,115.0 40.0,112.0 C46.0,109.0 53.0,110.0 58.0,110.0 C63.0,110.0 67.7,109.5 70.0,112.0 C72.3,114.5 74.5,121.2 72.0,125.0 C69.5,128.8 62.0,133.3 55.0,135.0 C48.0,136.7 35.5,136.2 30.0,135.0 C24.5,133.8 20.3,131.8 22.0,128.0 Z" fill="#F6F6F8" filter="url(#bl1_5)"/>
<path d="M125.0,140.0 C128.3,135.8 145.3,131.3 150.0,133.0 C154.7,134.7 156.3,145.8 153.0,150.0 C149.7,154.2 134.7,159.7 130.0,158.0 C125.3,156.3 121.7,144.2 125.0,140.0 Z" fill="#F6F6F8" filter="url(#bl1_5)"/>
<rect x="336" y="359.5" width="28.5" height="4.5" fill="#111"/>
</g>
<g transform="translate(914,1875) scale(1.00000,1.00270)" clip-path="url(#clip10)">
<rect x="-5" y="-5" width="381" height="381" fill="#E4A8D4"/>
<path d="M165.0,-5.0 C195.8,-12.5 324.8,-7.5 360.0,-5.0 C395.2,-2.5 373.3,-5.8 376.0,10.0 C378.7,25.8 385.3,77.5 376.0,90.0 C366.7,102.5 336.0,84.2 320.0,85.0 C304.0,85.8 293.3,97.5 280.0,95.0 C266.7,92.5 253.3,75.8 240.0,70.0 C226.7,64.2 210.8,65.0 200.0,60.0 C189.2,55.0 180.8,50.8 175.0,40.0 C169.2,29.2 134.2,2.5 165.0,-5.0 Z" fill="#EA96CA" filter="url(#bl9)" opacity="1.0"/>
<path d="M-5.0,126.0 C-0.2,97.5 17.2,100.5 24.0,91.0 C30.8,81.5 31.8,74.8 36.0,69.0 C40.2,63.2 38.3,57.2 49.0,56.0 C59.7,54.8 86.5,57.2 100.0,62.0 C113.5,66.8 121.7,75.3 130.0,85.0 C138.3,94.7 148.3,104.2 150.0,120.0 C151.7,135.8 145.0,161.7 140.0,180.0 C135.0,198.3 126.7,216.3 120.0,230.0 C113.3,243.7 110.0,256.2 100.0,262.0 C90.0,267.8 77.5,265.0 60.0,265.0 C42.5,265.0 5.8,285.2 -5.0,262.0 C-15.8,238.8 -9.8,154.5 -5.0,126.0 Z" fill="#D4A6D4" filter="url(#bl6)" opacity="1.0"/>
<path d="M280.0,100.0 C290.0,91.7 314.0,90.0 330.0,90.0 C346.0,90.0 368.3,60.0 376.0,100.0 C383.7,140.0 382.0,290.0 376.0,330.0 C370.0,370.0 349.3,345.0 340.0,340.0 C330.7,335.0 326.7,316.7 320.0,300.0 C313.3,283.3 305.0,260.0 300.0,240.0 C295.0,220.0 295.0,196.7 290.0,180.0 C285.0,163.3 271.7,153.3 270.0,140.0 C268.3,126.7 270.0,108.3 280.0,100.0 Z" fill="#C79CCE" filter="url(#bl6)" opacity="1.0"/>
<path d="M42.0,-5.0 C60.2,-11.5 131.0,-10.8 150.0,-5.0 C169.0,0.8 154.3,19.2 156.0,30.0 C157.7,40.8 161.0,51.7 160.0,60.0 C159.0,68.3 155.8,77.0 150.0,80.0 C144.2,83.0 133.3,81.0 125.0,78.0 C116.7,75.0 110.8,65.3 100.0,62.0 C89.2,58.7 68.5,59.0 60.0,58.0 C51.5,57.0 52.2,60.0 49.0,56.0 C45.8,52.0 42.2,44.2 41.0,34.0 C39.8,23.8 23.8,1.5 42.0,-5.0 Z" fill="#C49ACF" filter="url(#bl7)" opacity="1.0"/>
<path d="M42.0,-5.0 C60.2,-11.5 131.0,-10.8 150.0,-5.0 C169.0,0.8 154.3,19.2 156.0,30.0 C157.7,40.8 161.0,51.7 160.0,60.0 C159.0,68.3 155.8,77.0 150.0,80.0 C144.2,83.0 133.3,81.0 125.0,78.0 C116.7,75.0 110.8,65.3 100.0,62.0 C89.2,58.7 68.5,59.0 60.0,58.0 C51.5,57.0 52.2,60.0 49.0,56.0 C45.8,52.0 42.2,44.2 41.0,34.0 C39.8,23.8 23.8,1.5 42.0,-5.0 Z" fill="#9470BC" filter="url(#blot13)" opacity="0.75"/>
<path d="M-5.0,126.0 C-0.2,97.5 17.2,100.5 24.0,91.0 C30.8,81.5 31.8,74.8 36.0,69.0 C40.2,63.2 38.3,57.2 49.0,56.0 C59.7,54.8 86.5,57.2 100.0,62.0 C113.5,66.8 121.7,75.3 130.0,85.0 C138.3,94.7 148.3,104.2 150.0,120.0 C151.7,135.8 145.0,161.7 140.0,180.0 C135.0,198.3 126.7,216.3 120.0,230.0 C113.3,243.7 110.0,256.2 100.0,262.0 C90.0,267.8 77.5,265.0 60.0,265.0 C42.5,265.0 5.8,285.2 -5.0,262.0 C-15.8,238.8 -9.8,154.5 -5.0,126.0 Z" fill="#9C74BE" filter="url(#blot14)" opacity="0.7"/>
<path d="M280.0,100.0 C290.0,91.7 314.0,90.0 330.0,90.0 C346.0,90.0 368.3,60.0 376.0,100.0 C383.7,140.0 382.0,290.0 376.0,330.0 C370.0,370.0 349.3,345.0 340.0,340.0 C330.7,335.0 326.7,316.7 320.0,300.0 C313.3,283.3 305.0,260.0 300.0,240.0 C295.0,220.0 295.0,196.7 290.0,180.0 C285.0,163.3 271.7,153.3 270.0,140.0 C268.3,126.7 270.0,108.3 280.0,100.0 Z" fill="#9C74BE" filter="url(#blot15)" opacity="0.75"/>
<path d="M-5.0,262.0 C5.8,249.7 42.5,265.0 60.0,265.0 C77.5,265.0 86.7,266.2 100.0,262.0 C113.3,257.8 128.3,250.3 140.0,240.0 C151.7,229.7 160.0,210.0 170.0,200.0 C180.0,190.0 188.3,181.7 200.0,180.0 C211.7,178.3 227.5,184.2 240.0,190.0 C252.5,195.8 266.7,203.3 275.0,215.0 C283.3,226.7 290.0,247.5 290.0,260.0 C290.0,272.5 278.5,290.5 275.0,290.0 C271.5,289.5 272.3,265.7 269.0,257.0 C265.7,248.3 261.2,242.2 255.0,238.0 C248.8,233.8 239.5,232.7 232.0,232.0 C224.5,231.3 216.3,231.3 210.0,234.0 C203.7,236.7 197.3,243.2 194.0,248.0 C190.7,252.8 191.0,253.8 190.0,263.0 C189.0,272.2 191.0,292.3 188.0,303.0 C185.0,313.7 183.2,321.0 172.0,327.0 C160.8,333.0 139.5,336.3 121.0,339.0 C102.5,341.7 82.0,343.0 61.0,343.0 C40.0,343.0 6.0,352.5 -5.0,339.0 C-16.0,325.5 -15.8,274.3 -5.0,262.0 Z" fill="#EC9DCC" filter="url(#bl5)" opacity="1.0"/>
<path d="M271.0,283.0 C276.0,279.2 288.5,280.5 300.0,290.0 C311.5,299.5 327.3,331.7 340.0,340.0 C352.7,348.3 370.0,334.0 376.0,340.0 C382.0,346.0 388.2,370.0 376.0,376.0 C363.8,382.0 317.8,378.7 303.0,376.0 C288.2,373.3 292.0,366.2 287.0,360.0 C282.0,353.8 275.8,346.8 273.0,339.0 C270.2,331.2 270.3,322.3 270.0,313.0 C269.7,303.7 266.0,286.8 271.0,283.0 Z" fill="#E8A4D3" filter="url(#bl5)" opacity="1.0"/>
<path d="M-5.0,262.0 C12.5,249.2 67.5,261.8 100.0,262.0 C132.5,262.2 175.3,256.2 190.0,263.0 C204.7,269.8 199.5,290.3 188.0,303.0 C176.5,315.7 153.2,333.0 121.0,339.0 C88.8,345.0 16.0,351.8 -5.0,339.0 C-26.0,326.2 -22.5,274.8 -5.0,262.0 Z" fill="#F6CFE6" filter="url(#blot16)" opacity="0.8"/>
<rect x="0" y="0" width="371" height="371" filter="url(#tex2)" opacity="0.3"/>
<rect x="0" y="0" width="371" height="371" filter="url(#tex_hi)" opacity="0.8"/>
<path d="M-5.0,-5.0 C2.8,-26.8 34.3,-11.5 42.0,-5.0 C49.7,1.5 39.8,23.7 41.0,34.0 C42.2,44.3 50.3,50.8 49.5,56.6 C48.7,62.4 40.2,63.3 36.0,69.0 C31.8,74.7 28.0,83.7 24.0,91.0 C20.0,98.3 16.8,107.2 12.0,113.0 C7.2,118.8 -2.2,145.7 -5.0,126.0 C-7.8,106.3 -12.8,16.8 -5.0,-5.0 Z" fill="#F6F6F8" filter="url(#bl1_5)"/>
<path d="M-5.0,339.0 C6.0,333.5 40.0,343.0 61.0,343.0 C82.0,343.0 102.5,341.7 121.0,339.0 C139.5,336.3 160.8,333.0 172.0,327.0 C183.2,321.0 185.0,313.7 188.0,303.0 C191.0,292.3 189.0,272.2 190.0,263.0 C191.0,253.8 190.7,252.8 194.0,248.0 C197.3,243.2 203.7,236.7 210.0,234.0 C216.3,231.3 224.5,231.3 232.0,232.0 C239.5,232.7 248.8,233.8 255.0,238.0 C261.2,242.2 266.3,249.5 269.0,257.0 C271.7,264.5 270.8,273.7 271.0,283.0 C271.2,292.3 269.7,303.7 270.0,313.0 C270.3,322.3 270.2,331.2 273.0,339.0 C275.8,346.8 282.0,353.8 287.0,360.0 C292.0,366.2 351.7,373.3 303.0,376.0 C254.3,378.7 46.3,382.2 -5.0,376.0 C-56.3,369.8 -16.0,344.5 -5.0,339.0 Z" fill="#F6F6F8" filter="url(#bl1_5)"/>
<path d="M362.0,-5.0 C362.0,-7.2 373.7,-7.2 376.0,-5.0 C378.3,-2.8 378.3,8.0 376.0,8.0 C373.7,8.0 362.0,-2.8 362.0,-5.0 Z" fill="#F6F6F8" filter="url(#bl1_5)"/>
<rect x="336" y="359.5" width="28.5" height="4.5" fill="#111"/>
</g>
<g transform="translate(1293,1875) scale(1.00000,1.00270)" clip-path="url(#clip11)">
<rect x="-5" y="-5" width="381" height="381" fill="#EBAAD6"/>
<path d="M-5,37 L40,28 L101,26 L141,30 L182,37 L242,37 L303,35 L376,37 L376,162 L362,162 L356,154 L352,139 L347,141 L343,156 L337,158 L331,145 L325,129 L319,131 L315,145 L309,158 L303,156 L297,141 L291,131 L287,137 L285,149 L281,158 L275,156 L269,141 L263,131 L259,133 L251,145 L242,150 L222,149 L214,141 L202,135 L172,139 L160,133 L149,121 L137,113 L125,107 L117,110 L109,117 L81,122 L53,119 L42,112 L37,113 L32,123 L20,129 L0,131 L-5,132Z" fill="#EA86C4" filter="url(#bl3)" opacity="1.0"/>
<path d="M-5,86 L61,89 L121,97 L182,105 L242,101 L303,97 L376,95 L376,162 L362,162 L356,154 L352,139 L347,141 L343,156 L337,158 L331,145 L325,129 L319,131 L315,145 L309,158 L303,156 L297,141 L291,131 L287,137 L285,149 L281,158 L275,156 L269,141 L263,131 L259,133 L251,145 L242,150 L222,149 L214,141 L202,135 L172,139 L160,133 L149,121 L137,113 L125,107 L117,110 L109,117 L81,122 L53,119 L42,112 L37,113 L32,123 L20,129 L0,131 L-5,132Z" fill="#C67CBE" filter="url(#bl5)" opacity="1.0"/>
<path d="M-5,112 L20,110 L40,103 L60,106 L90,108 L120,96 L150,108 L180,118 L220,126 L260,120 L300,122 L340,122 L376,125 L376,162 L362,162 L356,154 L352,139 L347,141 L343,156 L337,158 L331,145 L325,129 L319,131 L315,145 L309,158 L303,156 L297,141 L291,131 L287,137 L285,149 L281,158 L275,156 L269,141 L263,131 L259,133 L251,145 L242,150 L222,149 L214,141 L202,135 L172,139 L160,133 L149,121 L137,113 L125,107 L117,110 L109,117 L81,122 L53,119 L42,112 L37,113 L32,123 L20,129 L0,131 L-5,132Z" fill="#A46CBA" filter="url(#bl3)" opacity="1.0"/>
<path d="M-5.0,112.0 C-0.8,108.3 12.5,111.5 20.0,110.0 C27.5,108.5 33.3,103.7 40.0,103.0 C46.7,102.3 51.7,105.2 60.0,106.0 C68.3,106.8 80.0,109.7 90.0,108.0 C100.0,106.3 110.0,96.0 120.0,96.0 C130.0,96.0 140.0,104.3 150.0,108.0 C160.0,111.7 168.3,115.0 180.0,118.0 C191.7,121.0 206.7,125.7 220.0,126.0 C233.3,126.3 246.7,120.7 260.0,120.0 C273.3,119.3 286.7,121.7 300.0,122.0 C313.3,122.3 327.3,121.5 340.0,122.0 C352.7,122.5 370.0,118.3 376.0,125.0 C382.0,131.7 378.3,155.8 376.0,162.0 C373.7,168.2 365.3,163.3 362.0,162.0 C358.7,160.7 357.7,157.8 356.0,154.0 C354.3,150.2 353.5,141.2 352.0,139.0 C350.5,136.8 348.5,138.2 347.0,141.0 C345.5,143.8 344.7,153.2 343.0,156.0 C341.3,158.8 339.0,159.8 337.0,158.0 C335.0,156.2 333.0,149.8 331.0,145.0 C329.0,140.2 327.0,131.3 325.0,129.0 C323.0,126.7 320.7,128.3 319.0,131.0 C317.3,133.7 316.7,140.5 315.0,145.0 C313.3,149.5 311.0,156.2 309.0,158.0 C307.0,159.8 305.0,158.8 303.0,156.0 C301.0,153.2 299.0,145.2 297.0,141.0 C295.0,136.8 292.7,131.7 291.0,131.0 C289.3,130.3 288.0,134.0 287.0,137.0 C286.0,140.0 286.0,145.5 285.0,149.0 C284.0,152.5 282.7,156.8 281.0,158.0 C279.3,159.2 277.0,158.8 275.0,156.0 C273.0,153.2 271.0,145.2 269.0,141.0 C267.0,136.8 264.7,132.3 263.0,131.0 C261.3,129.7 261.0,130.7 259.0,133.0 C257.0,135.3 253.8,142.2 251.0,145.0 C248.2,147.8 246.8,149.3 242.0,150.0 C237.2,150.7 226.7,150.5 222.0,149.0 C217.3,147.5 217.3,143.3 214.0,141.0 C210.7,138.7 209.0,135.3 202.0,135.0 C195.0,134.7 179.0,139.3 172.0,139.0 C165.0,138.7 163.8,136.0 160.0,133.0 C156.2,130.0 152.8,124.3 149.0,121.0 C145.2,117.7 141.0,115.3 137.0,113.0 C133.0,110.7 128.3,107.5 125.0,107.0 C121.7,106.5 119.7,108.3 117.0,110.0 C114.3,111.7 115.0,115.0 109.0,117.0 C103.0,119.0 90.3,121.7 81.0,122.0 C71.7,122.3 59.5,120.7 53.0,119.0 C46.5,117.3 44.7,113.0 42.0,112.0 C39.3,111.0 38.7,111.2 37.0,113.0 C35.3,114.8 34.8,120.3 32.0,123.0 C29.2,125.7 25.3,127.7 20.0,129.0 C14.7,130.3 4.2,130.5 0.0,131.0 C-4.2,131.5 -4.2,135.2 -5.0,132.0 C-5.8,128.8 -9.2,115.7 -5.0,112.0 Z" fill="#8E58AC" filter="url(#blot17)" opacity="0.8"/>
<path d="M250.0,165.0 C261.8,157.5 350.8,159.2 371.0,165.0 C391.2,170.8 382.8,192.5 371.0,200.0 C359.2,207.5 320.2,215.8 300.0,210.0 C279.8,204.2 238.2,172.5 250.0,165.0 Z" fill="#E39ED0" filter="url(#bl8)" opacity="1.0"/>
<path d="M-5.0,140.0 C58.5,104.0 312.5,120.7 376.0,160.0 C439.5,199.3 439.5,340.0 376.0,376.0 C312.5,412.0 58.5,415.3 -5.0,376.0 C-68.5,336.7 -68.5,176.0 -5.0,140.0 Z" fill="#D090C8" filter="url(#blot18)" opacity="0.4"/>
<rect x="0" y="0" width="371" height="371" filter="url(#tex2)" opacity="0.3"/>
<rect x="0" y="0" width="371" height="371" filter="url(#tex_md)" opacity="0.85"/>
<path d="M-5.0,-5.0 C58.5,-12.0 312.5,-12.0 376.0,-5.0 C439.5,2.0 388.2,30.3 376.0,37.0 C363.8,43.7 325.3,35.0 303.0,35.0 C280.7,35.0 262.2,36.7 242.0,37.0 C221.8,37.3 198.8,38.2 182.0,37.0 C165.2,35.8 154.5,31.8 141.0,30.0 C127.5,28.2 117.8,26.3 101.0,26.0 C84.2,25.7 57.7,26.2 40.0,28.0 C22.3,29.8 2.5,42.5 -5.0,37.0 C-12.5,31.5 -68.5,2.0 -5.0,-5.0 Z" fill="#F6F6F8" filter="url(#bl1_5)"/>
<rect x="336" y="359.5" width="28.5" height="4.5" fill="#111"/>
</g>
<g transform="translate(1671,1875) scale(1.00000,1.00270)" clip-path="url(#clip12)">
<rect x="-5" y="-5" width="381" height="381" fill="#E6B2DC"/>
<path d="M-5.0,-5.0 C19.3,-34.2 114.5,-10.8 141.0,-5.0 C167.5,0.8 142.2,20.7 154.0,30.0 C165.8,39.3 187.7,46.0 212.0,51.0 C236.3,56.0 272.7,58.5 300.0,60.0 C327.3,61.5 363.3,45.0 376.0,60.0 C388.7,75.0 397.0,136.7 376.0,150.0 C355.0,163.3 292.7,140.0 250.0,140.0 C207.3,140.0 162.5,145.0 120.0,150.0 C77.5,155.0 15.8,195.8 -5.0,170.0 C-25.8,144.2 -29.3,24.2 -5.0,-5.0 Z" fill="#D8A0D4" filter="url(#bl8)" opacity="0.7"/>
<path d="M-5.0,-5.0 C58.5,-68.5 312.5,-68.5 376.0,-5.0 C439.5,58.5 439.5,312.5 376.0,376.0 C312.5,439.5 58.5,439.5 -5.0,376.0 C-68.5,312.5 -68.5,58.5 -5.0,-5.0 Z" fill="#C890CC" filter="url(#blot19)" opacity="0.5"/>
<rect x="0" y="0" width="371" height="371" filter="url(#tex2)" opacity="0.25"/>
<rect x="0" y="0" width="371" height="371" filter="url(#tex_vh)" opacity="0.8"/>
<path d="M141.0,-5.0 C178.0,-7.8 336.8,-14.3 376.0,-5.0 C415.2,4.3 383.2,42.2 376.0,51.0 C368.8,59.8 343.5,49.2 333.0,48.0 C322.5,46.8 321.3,46.7 313.0,44.0 C304.7,41.3 294.8,34.3 283.0,32.0 C271.2,29.7 252.2,29.0 242.0,30.0 C231.8,31.0 227.0,34.5 222.0,38.0 C217.0,41.5 214.7,51.3 212.0,51.0 C209.3,50.7 208.3,40.2 206.0,36.0 C203.7,31.8 202.0,28.3 198.0,26.0 C194.0,23.7 187.0,22.0 182.0,22.0 C177.0,22.0 172.3,24.7 168.0,26.0 C163.7,27.3 158.3,32.3 156.0,30.0 C153.7,27.7 156.5,17.8 154.0,12.0 C151.5,6.2 104.0,-2.2 141.0,-5.0 Z" fill="#F6F6F8" filter="url(#bl1_5)"/>
<rect x="336" y="359.5" width="28.5" height="4.5" fill="#111"/>
</g>
</svg>
</body></html>
